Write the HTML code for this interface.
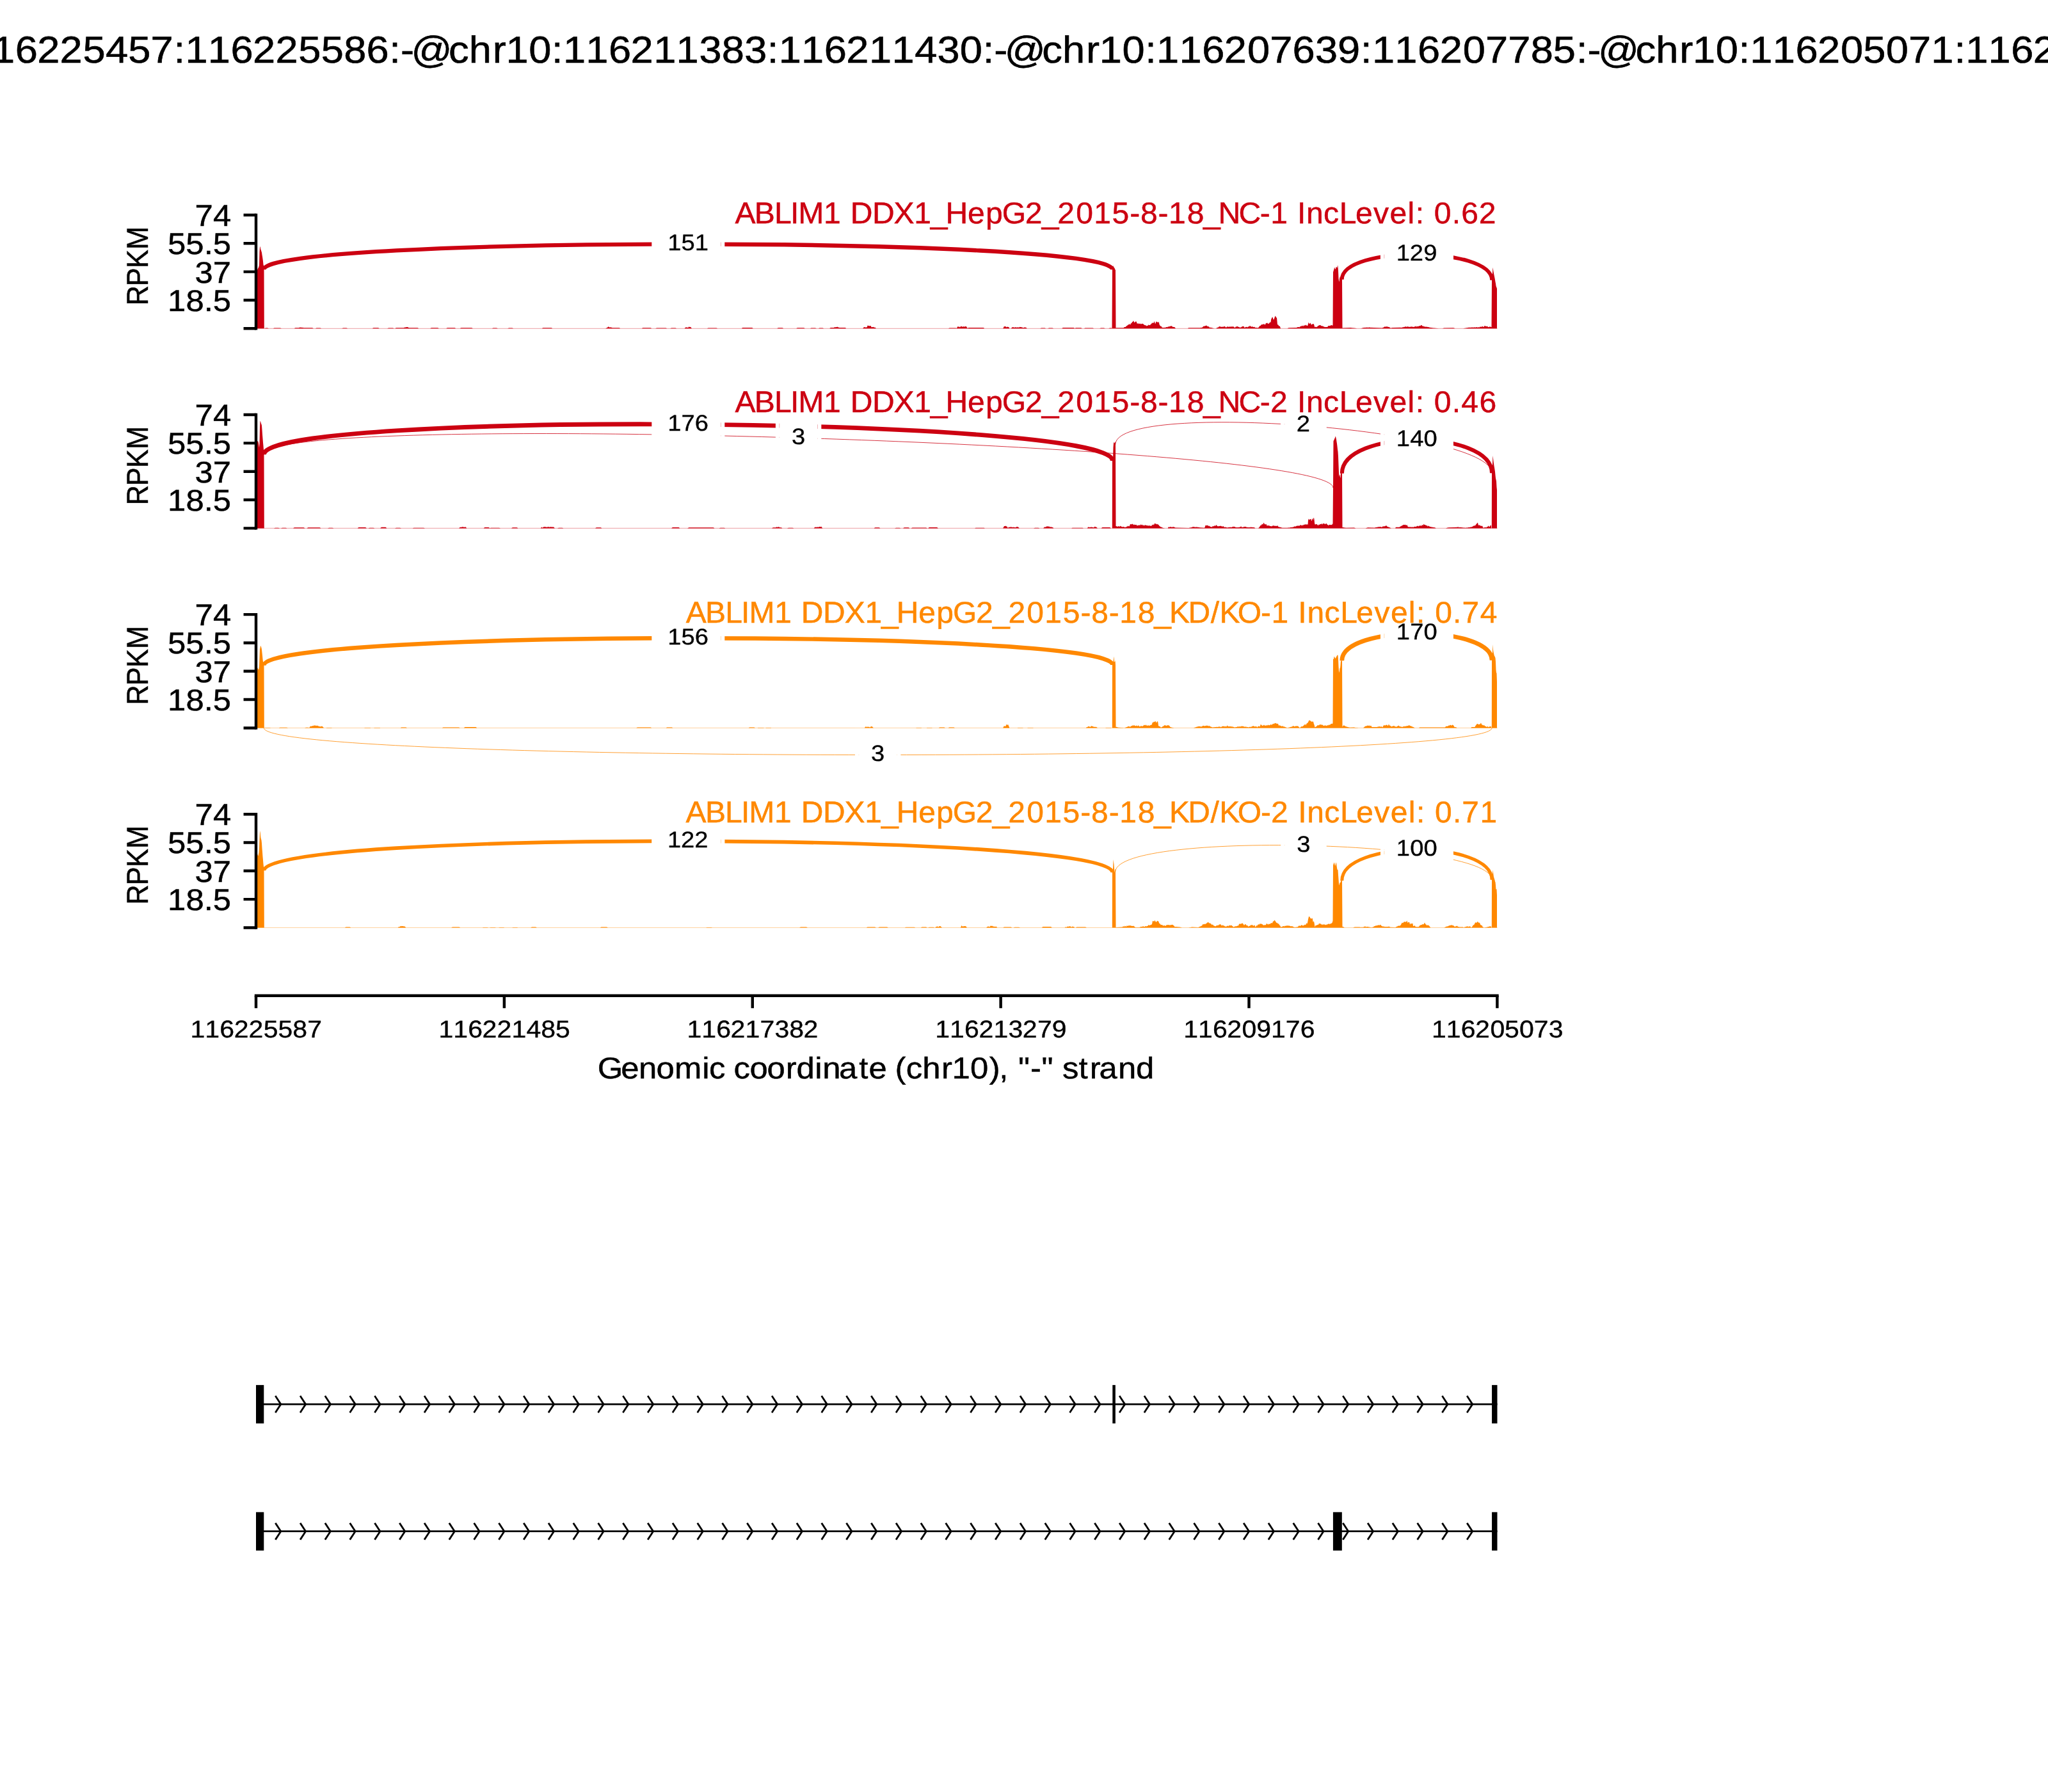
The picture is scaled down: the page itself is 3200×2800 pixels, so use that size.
<!DOCTYPE html>
<html lang="en"><head><meta charset="utf-8"><title>Sashimi plot chr10 ABLIM1</title>
<style>
html,body{margin:0;padding:0;background:#fff}
body{width:3200px;height:2800px;overflow:hidden}
svg{display:block;will-change:transform}
svg text{font-family:"Liberation Sans",sans-serif;font-kerning:none;text-rendering:geometricPrecision;white-space:pre;fill:#000;stroke:#000}
</style></head><body>
<svg width="3200" height="2800" viewBox="0 0 3200 2800">
<rect width="3200" height="2800" fill="#fff"/>
<g id="track1">
<path d="M400 513.3H2339.49" stroke="#CC0011" stroke-width="1" stroke-opacity=".38" fill="none"/>
<path d="M399.8 513.3L400 422.9L400.5 423.2L401 423.1L401.5 422.3L402 421.4L402.5 421L403 419.4L403.5 418.8L404 417.7L404.5 416.5L405 413.9L405.5 393.2L406 386.6L406.5 384.8L407 388L407.5 390L408 391.3L408.5 392.9L409 394.5L409.5 398.3L410 400.9L410.5 404.4L411 408.2L411.5 413.6L412 415L412.5 416.7L412.8 513.3ZM413.2 513.3L413.5 513.1L414 513L414.5 512.8L415 512.6L418 512.6L418.5 512.8L419 513L419.5 513.1L419.8 513.3ZM426.8 513.3L427 513.1L427.5 513L428 512.8L428.5 512.6L438 512.6L438.5 512.8L439 513L439.5 513.1L439.8 513.3ZM459.8 513.3L460 513L460.5 512.8L461 512.5L461.5 512.3L467 512.3L467.5 512L468 511.5L468.5 511.7L469 511.8L469.5 511.8L470 511.5L470.5 511.6L471 511.8L471.5 511.9L472 512.1L472.5 511.9L473 511.5L473.5 512L474 512.3L488 512.3L488.5 512.5L489 512.8L489.5 513L489.8 513.3ZM492.8 513.3L493 513.1L493.5 513L494 512.8L494.5 512.6L500.5 512.6L501 512.8L501.5 513L502 513.1L502.2 513.3ZM534.2 513.3L534.5 513.1L535 513L535.5 512.8L536 512.6L541.5 512.6L542 512.8L542.5 513L543 513.1L543.2 513.3ZM581.8 513.3L582 513L582.5 512.8L583 512.5L583.5 512.3L591 512.3L591.5 512.5L592 512.8L592.5 513L592.8 513.3ZM605.2 513.3L605.5 513.1L606 513L606.5 512.8L607 512.6L614 512.6L614.5 512.8L615 513L615.5 513.1L615.8 513.3ZM617.2 513.3L617.5 513L618 512.8L618.5 512.5L619 512.3L631 512.3L631.5 512.1L632 511.4L632.5 511.4L633 511.7L633.5 511.6L634 511.4L634.5 511.1L635 511.3L635.5 511.2L636 511L636.5 511L637 511.1L637.5 511.4L638 511.8L638.5 512L639 512.1L639.5 512.3L652.5 512.3L653 512.5L653.5 512.8L654 513L654.2 513.3ZM672.2 513.3L672.5 513L673 512.8L673.5 512.5L674 512.3L684 512.3L684.5 512.5L685 512.8L685.5 513L685.8 513.3ZM697.2 513.3L697.5 513L698 512.8L698.5 512.5L699 512.3L710.5 512.3L711 512.5L711.5 512.8L712 513L712.2 513.3ZM718.8 513.3L719 513L719.5 512.8L720 512.5L720.5 512.3L737 512.3L737.5 512.5L738 512.8L738.5 513L738.8 513.3ZM768.8 513.3L769 513.1L769.5 513L770 512.8L770.5 512.6L776 512.6L776.5 512.8L777 513L777.5 513.1L777.8 513.3ZM793.2 513.3L793.5 513.1L794 513L794.5 512.8L795 512.6L800.5 512.6L801 512.8L801.5 513L802 513.1L802.2 513.3ZM846.8 513.3L847 513L847.5 512.8L848 512.5L848.5 512.3L861.5 512.3L862 512.5L862.5 512.8L863 513L863.2 513.3ZM946.2 513.3L946.5 513L947 512.8L947.5 512.5L948 512.3L948.5 512.3L949 511.8L949.5 511.3L950 511L950.5 510.3L951 510.6L951.5 511.1L952 511.4L952.5 511.5L953 511.5L953.5 511.4L954 511.2L954.5 511.4L955 511.7L955.5 511.7L956 511.8L956.5 512.3L967.5 512.3L968 512.5L968.5 512.8L969 513L969.2 513.3ZM1002.8 513.3L1003 513L1003.5 512.8L1004 512.5L1004.5 512.3L1016.5 512.3L1017 512.5L1017.5 512.8L1018 513L1018.2 513.3ZM1024.2 513.3L1024.5 513.1L1025 513L1025.5 512.8L1026 512.6L1040.5 512.6L1041 512.8L1041.5 513L1042 513.1L1042.2 513.3ZM1047.2 513.3L1047.5 513.1L1048 513L1048.5 512.8L1049 512.6L1055.5 512.6L1056 512.8L1056.5 513L1057 513.1L1057.2 513.3ZM1069.8 513.3L1070 512.7L1070.5 512.1L1071 511.9L1071.5 511.5L1072 511.3L1072.5 511.4L1073 511.7L1074 511.6L1074.5 511.9L1075 512L1075.5 511.7L1076 511.1L1076.5 510.5L1077 510.5L1077.5 511.2L1078 511.3L1078.5 510.8L1079 510.9L1079.5 511.4L1080 512.1L1080.5 512.7L1080.8 513.3ZM1104.8 513.3L1105 513.1L1105.5 513L1106 512.8L1106.5 512.6L1119.5 512.6L1120 512.8L1120.5 513L1121 513.1L1121.2 513.3ZM1158.8 513.3L1159 513L1159.5 512.6L1160 512.3L1160.5 511.9L1175 511.9L1175.5 512.3L1176 512.6L1176.5 513L1176.8 513.3ZM1214.2 513.3L1214.5 513L1215 512.8L1215.5 512.5L1216 512.3L1222.5 512.3L1223 512.5L1223.5 512.8L1224 513L1224.2 513.3ZM1244.2 513.3L1244.5 513L1245 512.8L1245.5 512.5L1246 512.3L1256 512.3L1256.5 512.5L1257 512.8L1257.5 513L1257.8 513.3ZM1265.8 513.3L1266 513.1L1266.5 513L1267 512.8L1267.5 512.6L1274 512.6L1274.5 512.8L1275 513L1275.5 513.1L1275.8 513.3ZM1278.8 513.3L1279 513.1L1279.5 513L1280 512.8L1280.5 512.6L1285.5 512.6L1286 512.8L1286.5 513L1287 513.1L1287.2 513.3ZM1296.2 513.3L1296.5 513L1297 512.6L1297.5 512.3L1298 511.9L1303 511.9L1303.5 511.8L1304 511L1304.5 511.2L1305.5 511.2L1306 511.4L1306.5 511.2L1307 510.7L1307.5 510.9L1308 510.9L1308.5 510.5L1309 510.9L1309.5 511.4L1310.5 511.4L1311 511.8L1311.5 511.9L1320.5 511.9L1321 512.3L1321.5 512.6L1322 513L1322.2 513.3ZM1348.2 513.3L1348.5 512.8L1349 512.3L1349.5 511.8L1350 510.9L1350.5 511.1L1351 511.3L1352 511.4L1352.5 511.6L1353 511.6L1353.5 511.5L1354.5 511.5L1355 510.4L1355.5 508.6L1356 508.6L1356.5 509.2L1357 509.1L1357.5 508.7L1358 509L1358.5 509.5L1359 509.4L1359.5 509.1L1360 509L1360.5 508.9L1361 510L1361.5 511.1L1362 511.4L1362.5 511.2L1363 510.9L1363.5 511.1L1364 511.2L1364.5 510.8L1365 510.9L1365.5 511.5L1366 511.8L1366.5 511.7L1367 511.5L1367.5 511.8L1368 512.3L1368.5 512.8L1368.8 513.3ZM1481.8 513.3L1482 513.1L1482.5 513L1483 512.8L1483.5 512.6L1493.5 512.6L1494 512.8L1494.5 513L1495 512.5L1495.5 511.8L1496 510.9L1496.5 509.9L1497 510.3L1497.5 510.7L1498 510.5L1498.5 510.3L1499 510.7L1499.5 511.2L1500 511.3L1500.5 511L1501 509.9L1501.5 509.4L1502 510L1502.5 510.1L1503 510.2L1503.5 510.7L1504 510.6L1504.5 510.5L1505 510.2L1505.5 510L1506 510.6L1506.5 510.4L1507 510.2L1507.5 510.4L1508 510.2L1508.5 509.9L1509 510L1509.5 510L1510 510.3L1510.5 511.3L1511 511.8L1511.5 512.5L1512 513L1512.5 512.6L1513 512.3L1513.5 511.9L1536.5 511.9L1537 512.3L1537.5 512.6L1538 513L1538.2 513.3ZM1567.2 513.3L1567.5 512.6L1568 512L1568.5 510.7L1569 509.9L1569.5 510.3L1570 510.2L1570.5 509.8L1571 510L1571.5 510.4L1572 510.8L1572.5 511.4L1573 511.3L1573.5 510.6L1574 510.4L1574.5 510.8L1575 511.3L1575.5 510.9L1576 510.7L1576.5 511.5L1577 512.2L1577.2 513.3ZM1579.8 513.3L1580 512.9L1580.5 512.5L1581 512L1581.5 511.3L1582 511.2L1582.5 511.3L1583 511.4L1583.5 511.2L1584 511.3L1584.5 511.8L1585 512.1L1585.5 511.8L1586 511.2L1586.5 510.9L1587 511.4L1587.5 511.8L1588 511.8L1588.5 511.6L1589 511.6L1589.5 511.6L1590.5 511.5L1591 511.4L1591.5 511.5L1592 511.7L1592.5 511.7L1593 511L1593.5 510.8L1594 510.9L1594.5 511L1595 511.3L1595.5 511.3L1596 511.1L1596.5 511.6L1597 511.5L1597.5 511.6L1598 512.2L1598.5 512.2L1599 512L1599.5 512.1L1600 512L1600.5 511.6L1601 511.5L1601.5 511.6L1602 511.6L1602.5 511.7L1603 511.8L1603.5 512L1604 512.5L1604.5 512.9L1604.8 513.3ZM1625.2 513.3L1625.5 513.1L1626 513L1626.5 512.8L1627 512.6L1632.5 512.6L1633 512.8L1633.5 513L1634 513.1L1634.2 513.3ZM1637.2 513.3L1637.5 513.1L1638 513L1638.5 512.8L1639 512.6L1644.5 512.6L1645 512.8L1645.5 513L1646 513.1L1646.2 513.3ZM1659.2 513.3L1659.5 513L1660 512.6L1660.5 512.3L1661 511.9L1677.5 511.9L1678 512.3L1678.5 512.6L1679 513L1679.5 513L1680 512.8L1680.5 512.5L1681 512.3L1689 512.3L1689.5 512.5L1690 512.8L1690.5 513L1690.8 513.3ZM1693.8 513.3L1694 513.1L1694.5 513L1695 512.8L1695.5 512.6L1707.5 512.6L1708 512.8L1708.5 513L1709 513.1L1709.2 513.3ZM1718.2 513.3L1718.5 513.1L1719 513L1719.5 512.8L1720 512.6L1725 512.6L1725.5 512.8L1726 513L1726.5 513.1L1726.8 513.3ZM1732.2 513.3L1732.5 513.1L1733 513L1733.5 512.8L1734 512.6L1736.5 512.6L1737 512.8L1737.5 513L1738 421.5L1738.5 419.8L1739 417.1L1739.5 414.7L1740 417L1740.5 418.1L1741 418.6L1741.5 418.8L1742 420.4L1742.5 421.4L1743 421.5L1743.5 512.5L1744 512.3L1755 512.3L1755.5 512.3L1756 511.9L1756.5 511.2L1757 511L1757.5 510.9L1758 510.9L1758.5 511L1759 510.8L1759.5 509.8L1760 509.4L1760.5 509.3L1761 508.8L1761.5 508.6L1762 508.2L1762.5 507.5L1763 507.6L1763.5 507.6L1764 506.3L1764.5 505.9L1765 506.7L1765.5 507.3L1766 507.5L1766.5 506.6L1767 505.1L1767.5 505L1768 505.4L1768.5 504.2L1769 502.7L1769.5 503.1L1770 503L1770.5 501.5L1771 501.2L1771.5 501.9L1772 502.9L1772.5 504.1L1773 504L1773.5 503.3L1774 502.7L1774.5 502.2L1775 502.2L1775.5 502.6L1776 503.4L1776.5 505.1L1777 506.1L1777.5 505.6L1778 505.3L1778.5 505.3L1779 505.5L1779.5 506.2L1780 506.2L1780.5 505.6L1781 505.5L1781.5 505.7L1782 505.7L1782.5 506.2L1783 506.8L1783.5 505.9L1784 505.5L1784.5 506.1L1785 505.9L1785.5 505.4L1786 506.1L1786.5 506.8L1787 506.6L1787.5 507.1L1788 508L1788.5 508.1L1789 507.9L1789.5 508.2L1790 508.3L1790.5 508.3L1791 509.2L1791.5 509.5L1792 509L1792.5 508.7L1793 508.7L1793.5 508.9L1794 508.3L1794.5 507.5L1795 507.4L1795.5 508L1796 507.9L1796.5 507.9L1797 508.3L1797.5 507.5L1798 506.3L1798.5 506.6L1799 506.4L1799.5 505.2L1800 504.2L1800.5 504.5L1801 505.2L1801.5 504.6L1802 503.9L1802.5 504.5L1803 504.3L1803.5 502.5L1804 502.1L1804.5 504.4L1805 506L1805.5 505.4L1806 504.1L1806.5 502.9L1807 502.1L1807.5 502.7L1808 503.2L1808.5 503.2L1809 503.4L1809.5 503.9L1810 503.4L1810.5 502.6L1811 504.2L1811.5 506.7L1812 507.9L1812.5 508.6L1813 509.5L1813.5 509.8L1814 509.6L1814.5 509.7L1815 510.5L1815.5 511.4L1816 512L1816.5 511.7L1817 512.1L1821.5 511.8L1822 511.1L1823 511.1L1823.5 511.2L1824 511.3L1824.5 510.9L1825 510.3L1825.5 510.2L1826 510.4L1826.5 510.4L1827 510L1827.5 510.1L1828 510.1L1828.5 509.5L1829 509.6L1829.5 509.7L1830 509.2L1830.5 509.2L1831 509.6L1831.5 509.8L1832 510.4L1832.5 511L1833 511L1833.5 510.7L1834 510.9L1834.5 510.9L1835 511.1L1835.5 511.5L1836 511.8L1836.5 512.5L1836.8 513.3ZM1856.2 513.3L1856.5 512.8L1857 512.3L1875.5 512.3L1876 512.1L1876.5 512L1877 511.8L1877.5 512.1L1878 511.9L1878.5 511.7L1879 511.1L1879.5 510.7L1880 510.3L1880.5 509.7L1881 509.6L1881.5 509.8L1882 509.8L1882.5 509.6L1883 508.9L1883.5 508.9L1884 509.2L1884.5 508.8L1885 508.5L1885.5 508.7L1886 509.3L1886.5 510.3L1887 510.1L1887.5 509.4L1888 509.9L1888.5 510.6L1889 510.5L1889.5 510.9L1890 511.8L1890.5 512.3L1891 512L1891.5 511.6L1892 511.7L1892.5 511.9L1893 512.1L1893.5 512.2L1894 512.4L1894.5 512.5L1895 512.6L1895.5 512.8L1896 512.9L1896.5 513L1897 513.2L1897.2 513.3ZM1900.2 513.3L1900.5 513.1L1901 512.6L1901.5 512.1L1902 511.7L1902.5 511.8L1903 511.9L1903.5 511.6L1904 511L1904.5 510.5L1905 510.3L1905.5 510.2L1906 510L1906.5 510L1907 510.3L1907.5 511L1908 511.1L1908.5 510.6L1909 510.8L1909.5 510.8L1910 510.6L1910.5 510.7L1911 510.4L1911.5 510.4L1912 510.9L1912.5 510.1L1913 509.4L1913.5 509.9L1914 510.5L1914.5 510.5L1915 510.9L1915.5 511.7L1916 511.7L1916.5 511.1L1917 510.7L1917.5 510.3L1918 510.2L1918.5 510.4L1919 510.6L1919.5 510.7L1920 510.8L1920.5 510.6L1921 510.7L1921.5 510.5L1922 510L1922.5 510.4L1923 510.7L1923.5 510.4L1924.5 510.3L1925 510.2L1925.5 510.3L1926 510.4L1926.5 510.5L1927 510.1L1927.5 510.2L1928 511.3L1928.5 511.5L1929 511.6L1929.5 512.1L1930 511.7L1930.5 510.9L1931 510.6L1931.5 510.2L1932 510.2L1932.5 510.4L1933 510.1L1933.5 510L1934 510.1L1934.5 510.5L1935 510.9L1935.5 510.9L1936 510.8L1936.5 511.3L1937 511.7L1937.5 511.9L1938 511.5L1938.5 511.4L1939 511.4L1939.5 511.3L1940 510.9L1940.5 510.2L1941 509.9L1942.5 509.9L1943 509.7L1943.5 510.1L1944 510.9L1944.5 511.8L1945 512.3L1945.5 511.7L1946 510.9L1946.5 510.8L1947 511L1947.5 510.7L1948 510.7L1948.5 511.2L1949 511.6L1949.5 511.2L1950 510.6L1950.5 510.2L1951 510.3L1951.5 510.4L1952 509.7L1952.5 509.2L1953 509.3L1953.5 509.2L1954 509.4L1954.5 510.1L1955 510.9L1955.5 510.8L1956 509.9L1956.5 509.9L1957 510.4L1957.5 510.7L1958 510.7L1958.5 510.9L1959 511.2L1959.5 511L1960 510.6L1960.5 511L1961 511.8L1961.5 512.2L1962 511.7L1962.5 511.8L1963 512L1963.5 512.1L1964 512.2L1964.5 512.3L1965 512.2L1965.5 512L1966 511.9L1966.5 511.8L1967 511.1L1967.5 510.4L1968 509.3L1968.5 508.9L1969 509.3L1969.5 509L1970 508.2L1970.5 507.8L1971 507.5L1971.5 506.9L1972 506.6L1972.5 506.9L1973 507.2L1973.5 507.1L1974 506.5L1974.5 506.2L1975 506.3L1975.5 506.4L1976 507L1976.5 507.7L1977 507.1L1977.5 505.9L1978 505.1L1978.5 504.9L1979 505.1L1979.5 504.8L1980 504.3L1980.5 504.8L1981 505.7L1981.5 505.8L1982 505.7L1982.5 505.8L1983 504.9L1983.5 504.5L1984 504.3L1984.5 503.3L1985 503.5L1985.5 503.7L1986 500L1986.5 498.1L1987 497.4L1987.5 496.3L1988 495.3L1988.5 495.8L1989 497L1989.5 498.8L1990 499.8L1990.5 499L1991 497.8L1991.5 496.3L1992 495L1992.5 493.7L1993 493.8L1993.5 495L1994 496.1L1994.5 496.5L1995 496.2L1995.5 501.7L1996 507.7L1996.5 507.3L1997 506.9L1997.5 508L1998 509L1998.5 509.6L1999 509.7L1999.5 509.2L2000 510.3L2000.5 511.8L2001 513.1L2001.2 513.3ZM2011.2 513.3L2011.5 513.2L2012 512.9L2012.5 512.7L2013 512.4L2013.5 512.3L2023 512.1L2023.5 512.1L2024 512L2024.5 512L2025 511.9L2025.5 511.9L2026 511.8L2026.5 511.8L2027 511.4L2027.5 511.1L2028 511.1L2028.5 511.1L2029 511L2029.5 511.1L2030 511.4L2030.5 511.2L2031 510.5L2031.5 510.2L2032 510.2L2032.5 509.8L2033 509.3L2033.5 509.7L2034 509.7L2034.5 508.8L2035 508.4L2035.5 509.2L2036 510L2036.5 509.6L2037 508.8L2037.5 508.3L2038 508.3L2038.5 508.8L2039 508.7L2039.5 508.3L2040 507.8L2040.5 507.7L2041 507.8L2041.5 508.5L2042 509.2L2042.5 509.1L2043 508.8L2043.5 508.2L2044 505.5L2044.5 503.6L2045 504.9L2045.5 505.9L2046 506L2046.5 505.4L2047 504.6L2047.5 504.7L2048 505.4L2048.5 506.5L2049 507.5L2049.5 507.4L2050 506.8L2050.5 506.1L2051 506.2L2051.5 506.8L2052 506.3L2052.5 505.8L2053 506.8L2053.5 508.5L2054 510.4L2054.5 511.3L2055 511.1L2055.5 510.6L2056 510.6L2056.5 511.3L2057 511.2L2057.5 510.7L2058 510.4L2058.5 510.2L2059 509.6L2059.5 509.1L2060 509L2060.5 508.8L2061 508.3L2061.5 508.2L2062 508.1L2062.5 507.9L2063 508.1L2063.5 508.3L2064 508.7L2064.5 509.2L2065 509.4L2065.5 509.2L2066 509L2066.5 509.5L2067 509.9L2067.5 509.7L2068 510.1L2068.5 510.6L2069 510.5L2069.5 510.8L2070 511.2L2070.5 511L2071 511.1L2071.5 511L2072 510.7L2072.5 511.1L2073 511.1L2073.5 510.9L2074 511L2074.5 510.6L2075 509.5L2075.5 508.9L2076 509.3L2076.5 509.2L2077 508.7L2077.5 509L2078 509.3L2078.5 508.9L2079 508.6L2079.5 508.3L2080 507.9L2080.5 507.9L2081 508.2L2081.5 508.6L2082 508.7L2082.5 508.1L2083 425.1L2083.5 423.8L2084 421.7L2084.5 420.4L2085 417.6L2085.5 418.6L2086 420.1L2086.5 420.8L2087 419.7L2087.5 417.8L2088 416.8L2088.5 417.5L2089 418.3L2089.5 417.9L2090 414.3L2090.5 416.2L2091 423L2091.5 435.1L2092 438.8L2092.5 440.5L2093 435.4L2093.5 433.4L2094 432.3L2094.5 433.4L2095 433.5L2095.5 433.5L2096 435.3L2096.5 436L2097 436.4L2097.5 512.6L2110 512L2110.5 512.1L2111 512.1L2111.5 512.2L2112 512.2L2112.5 512.3L2113 512.3L2113.5 512.4L2114.5 512.5L2115 512.5L2115.5 512.6L2116 512.6L2116.5 512.7L2117 512.7L2117.5 512.8L2118 512.8L2118.5 512.9L2119 513L2119.5 513.1L2119.8 513.3ZM2126.2 513.3L2126.5 513.1L2127 513L2127.5 512.9L2128 512.7L2128.5 512.6L2129 512.5L2129.5 512.3L2130 512.2L2130.5 512.1L2135.5 511.7L2136 511.4L2136.5 511.4L2137 511.8L2137.5 512.3L2138 512.3L2138.5 511.6L2139 511.2L2139.5 511.5L2140 511.8L2140.5 511.7L2159.5 512.6L2160 512.3L2160.5 511.9L2161 511.7L2161.5 511.8L2162 511.4L2162.5 511.1L2163 511.1L2163.5 510.6L2164 509.9L2164.5 510.1L2165 510.8L2165.5 511.1L2166 510.7L2166.5 510L2167 509.7L2167.5 510.1L2168 510.8L2168.5 511L2169 510.7L2169.5 510.7L2170 511L2170.5 511.1L2171 511.2L2171.5 511.7L2172 512.1L2172.5 512.4L2173 512.5L2173.5 512.5L2174 512.4L2174.5 512.3L2175 512.2L2175.5 512.1L2176 512L2176.5 512L2177 511.9L2187.5 511.8L2188 511.8L2188.5 511.7L2189 511.9L2189.5 511.9L2190 511.7L2190.5 511.6L2191 511.9L2191.5 511.4L2192 510.7L2192.5 511.2L2193 511.6L2193.5 511.1L2194 510.7L2194.5 510.8L2195 510.8L2195.5 510.8L2196 510.4L2196.5 509.8L2197 510.3L2197.5 510.9L2198 510.8L2198.5 510.5L2199 510.2L2199.5 510.1L2200 510.5L2200.5 510.8L2201 510.5L2201.5 510.4L2202 510.8L2202.5 511L2203 510.9L2203.5 510.6L2204 510.6L2204.5 510.7L2205 510.3L2205.5 510.3L2206 510.6L2206.5 510.8L2207 510.4L2207.5 510.5L2208 511L2208.5 511.1L2209 511L2209.5 510.6L2210 510.2L2210.5 510.4L2211 510.5L2211.5 510.3L2212 509.6L2212.5 509.4L2213 509.9L2213.5 510.7L2214 510.5L2214.5 509.8L2215 509.8L2215.5 509.9L2216.5 509.9L2217 509.4L2217.5 509.1L2218 509.3L2218.5 509.3L2219 509.2L2219.5 509L2220 508.4L2220.5 507.9L2221 508L2221.5 508.1L2222 508.9L2222.5 509.8L2223 509.4L2223.5 509.2L2224 509.5L2224.5 510.1L2225 510.6L2225.5 510.4L2226 509.9L2226.5 510L2227 510.8L2227.5 510.9L2228 510.6L2228.5 510.6L2229 510.4L2229.5 510.8L2230 511.2L2230.5 510.8L2231 510.8L2231.5 511.3L2232 511.2L2232.5 511.1L2233 511.2L2233.5 511.8L2234 511.7L2234.5 511.8L2235 511.8L2235.5 511.9L2236 512L2236.5 512.1L2237 512.1L2237.5 512.2L2238 512.3L2238.5 512.3L2239 512.4L2239.5 512.5L2240 512.5L2240.5 512.6L2248 513.2L2248.2 513.3ZM2253.8 513.3L2254 513.1L2254.5 513L2255 512.9L2255.5 512.8L2256 512.6L2256.5 512.6L2271 512.2L2271.5 512.4L2272 512.6L2272.5 512.8L2273 513L2273.5 513.2L2273.8 513.3ZM2285.8 513.3L2286 513.2L2286.5 513.2L2287 513.1L2287.5 513L2288 512.9L2288.5 512.8L2289 512.7L2289.5 512.7L2290 512.6L2290.5 512.5L2291 512.4L2291.5 512.3L2292 512.2L2292.5 512.2L2293 512.1L2293.5 512L2294 511.9L2294.5 511.8L2299.5 511.7L2300 511.1L2300.5 511.3L2301 511.9L2301.5 512.1L2302 511.5L2302.5 511.4L2303 511.6L2303.5 511.5L2304 511.3L2304.5 511.6L2305 511.8L2305.5 511.6L2306 511.6L2306.5 511.5L2307 510.9L2307.5 510.9L2308 511.6L2308.5 511.9L2309 511.4L2309.5 511L2310 511.3L2310.5 511.6L2311 511.7L2311.5 511.5L2312 511L2312.5 510.4L2313 510.5L2313.5 510.8L2314 510.7L2314.5 510.6L2315 510.8L2315.5 510.4L2316 509.8L2316.5 509.9L2317 510.2L2317.5 510.4L2318 510.7L2318.5 510.9L2319 510.3L2319.5 509.3L2320 508.9L2320.5 509.1L2321 509.5L2321.5 509.9L2322 510.2L2322.5 509.9L2323 509.7L2323.5 509.7L2324 509.7L2324.5 510.2L2325 510.9L2325.5 511.1L2326 511.2L2326.5 510.9L2327 510.4L2327.5 510.5L2328 510.6L2328.5 510.4L2329 510.6L2329.5 511.1L2330 511.1L2330.5 511.2L2331 438L2331.5 433.6L2332 426.7L2332.5 417.8L2333 420.9L2333.5 424.3L2334 426.9L2334.5 429.7L2335 432L2335.5 434.6L2336 437.3L2336.5 440.4L2337 442.7L2337.5 446.5L2338 448.5L2338.5 449.2L2339 451.2L2339 513.3Z" fill="#CC0011"/>
<g fill="none" stroke="#CC0011">
<path d="M412.29 421.18C412.29 368.23 1738.31 368.35 1738.31 421.3" stroke-width="6.36"/>
<path d="M2096.8 436.63C2096.8 383.68 2331.07 384.76 2331.07 437.71" stroke-width="5.85"/>
</g>
<rect x="1018.31" y="339.91" width="113.97" height="83.22" fill="#fff"/>
<rect x="2156.89" y="355.85" width="114.1" height="83.22" fill="#fff"/>
<text transform="translate(1043.42 391.02) scale(1.0796 1)" font-size="35.32" stroke-width="0.35" x="-0.2 19.5 39.1">151</text>
<text transform="translate(2182 406.96) scale(1.0796 1)" font-size="35.32" stroke-width="0.35" x="-0.2 19.2 39.2">129</text>
<clipPath id="seam1"><rect x="1125.88" y="342.69" width="1" height="77.67"/><rect x="2162.3" y="358.62" width="1" height="77.67"/></clipPath>
<g clip-path="url(#seam1)" opacity=".3" fill="none" stroke="#CC0011"><path d="M412.29 421.18C412.29 368.23 1738.31 368.35 1738.31 421.3" stroke-width="6.36"/><path d="M2096.8 436.63C2096.8 383.68 2331.07 384.76 2331.07 437.71" stroke-width="5.85"/></g>
</g>
<g id="track2">
<path d="M400 825.35H2339.49" stroke="#CC0011" stroke-width="1" stroke-opacity=".38" fill="none"/>
<path d="M399.8 825.4L400 691L400.5 690.5L401 690.4L401.5 690.9L402 689.9L402.5 689.3L403 688.9L403.5 690.5L404 692.7L404.5 696.1L405 699.6L405.5 692.7L406 669.3L406.5 657.9L407 658.2L407.5 659.9L408 661.7L408.5 663.1L409 665L409.5 671.4L410 679.1L410.5 685.2L411 691.6L411.5 697.1L412 703L412.5 708.5L412.8 825.4ZM428.2 825.4L428.5 825.2L429 825.1L429.5 824.9L430 824.8L435 824.8L435.5 824.9L436 825.1L436.5 825.2L436.8 825.4ZM439.2 825.4L439.5 825.2L440 825.1L440.5 824.9L441 824.8L446.5 824.8L447 824.9L447.5 825.1L448 825.2L448.2 825.4ZM458.2 825.4L458.5 825.1L459 824.8L459.5 824.6L460 824.3L474.5 824.3L475 824.6L475.5 824.8L476 825.1L476.2 825.4ZM479.8 825.4L480 825.1L480.5 824.8L481 824.6L481.5 824.3L499.5 824.3L500 824.6L500.5 824.8L501 825.1L501.2 825.4ZM512.2 825.4L512.5 825.2L513 825.1L513.5 824.9L514 824.8L519.5 824.8L520 824.9L520.5 825.1L521 825.2L521.2 825.4ZM558.8 825.4L559 825L559.5 824.7L560 824.3L560.5 824L571 824L571.5 824.3L572 824.7L572.5 825L572.8 825.4ZM575.8 825.4L576 825.2L576.5 825.1L577 824.9L577.5 824.8L583.5 824.8L584 824.9L584.5 825.1L585 825.2L585.2 825.4ZM594.2 825.4L594.5 825L595 824.6L595.5 824.2L596 823.8L602.5 823.8L603 824.2L603.5 824.6L604 825L604.2 825.4ZM617.2 825.4L617.5 825.2L618 825.1L618.5 824.9L619 824.8L625 824.8L625.5 824.9L626 825.1L626.5 825.2L626.8 825.4ZM644.8 825.4L645 825.2L645.5 825.1L646 824.9L646.5 824.8L662 824.8L662.5 824.9L663 825.1L663.5 825.2L663.8 825.4ZM717.2 825.4L717.5 824.9L718 824.5L718.5 824.1L719 824L719.5 823.7L720 823.6L720.5 824L721 824.1L721.5 823.6L722 823.3L723 823.3L723.5 823.6L724 823.7L724.5 823.4L725 823.5L725.5 823.7L726 823.8L726.5 823.7L727 823.4L727.5 823.3L728 824.1L728.5 824.5L729 824.9L729.2 825.4ZM755.8 825.4L756 825L756.5 824.7L757 824.3L757.5 824L763.5 824L764 824.3L764.5 824.7L765 825L765.5 825.2L766 825.1L766.5 824.9L767 824.8L780 824.8L780.5 824.9L781 825.1L781.5 825.2L781.8 825.4ZM799.2 825.4L799.5 825.1L800 824.8L800.5 824.6L801 824.3L807.5 824.3L808 824.6L808.5 824.8L809 825.1L809.2 825.4ZM844.8 825.4L845 824.9L845.5 824.5L846 824.1L846.5 823.6L847 824.1L847.5 824.9L848 824.6L848.5 823.8L849 823.6L849.5 823.6L850 823.2L850.5 823.2L851 823.4L851.5 823.1L852 822.9L852.5 823.4L853 823.7L853.5 823.4L854 823.6L854.5 823.8L855 823.8L855.5 823.6L856 823.3L856.5 823.1L857 823.1L857.5 823.4L858 823.8L858.5 823.7L859 823.5L859.5 823.2L860 822.9L860.5 823.4L861 823.7L861.5 823.3L862 823.3L862.5 823.6L863 823.7L863.5 823.5L864 823.3L864.5 823.4L865 823.6L865.5 824.1L866 824.5L866.5 824.9L866.8 825.4ZM871.2 825.4L871.5 825.2L872 825.1L872.5 824.9L873 824.8L878.5 824.8L879 824.9L879.5 825.1L880 825.2L880.2 825.4ZM930.2 825.4L930.5 825.1L931 824.8L931.5 824.6L932 824.3L938.5 824.3L939 824.6L939.5 824.8L940 825.1L940.2 825.4ZM1049.2 825.4L1049.5 825L1050 824.7L1050.5 824.3L1051 824L1060.5 824L1061 824.3L1061.5 824.7L1062 825L1062.2 825.4ZM1074.2 825.4L1074.5 825.2L1075 825L1075.5 824.8L1076 824.6L1076.5 824.3L1114.5 824.3L1115 824.6L1115.5 824.8L1116 825.1L1116.2 825.4ZM1123.8 825.4L1124 825.2L1124.5 825.1L1125 824.9L1125.5 824.8L1131.5 824.8L1132 824.9L1132.5 825.1L1133 825.2L1133.2 825.4ZM1206.2 825.4L1206.5 825.1L1207 824.8L1207.5 824.6L1208 824.3L1212 824.3L1212.5 824.1L1213 823.8L1213.5 823.6L1214 823.3L1214.5 823.4L1215 824L1215.5 824L1216 823.2L1216.5 823L1217 823.4L1217.5 823.6L1218 824.1L1218.5 824.3L1220.5 824.3L1221 824.6L1221.5 824.8L1222 825.1L1222.2 825.4ZM1230.2 825.4L1230.5 825.2L1231 825.1L1231.5 824.9L1232 824.8L1238.5 824.8L1239 824.9L1239.5 825.1L1240 825.2L1240.2 825.4ZM1271.8 825.4L1272 824.9L1272.5 824.5L1273 824.1L1273.5 823.8L1274 823.5L1274.5 823.6L1275 824L1275.5 823.9L1276 823.6L1276.5 823.6L1277 823.6L1277.5 823.5L1278 823.8L1278.5 824L1279 823.6L1279.5 823.2L1280 823.1L1280.5 823L1281 823.2L1281.5 823.2L1282 823.1L1282.5 823.3L1283 823L1283.5 822.8L1284 824.1L1284.5 824.5L1285 824.9L1285.2 825.4ZM1365.8 825.4L1366 825.1L1366.5 824.8L1367 824.6L1367.5 824.3L1373.5 824.3L1374 824.6L1374.5 824.8L1375 825.1L1375.2 825.4ZM1398.2 825.4L1398.5 825.2L1399 825.1L1399.5 824.9L1400 824.8L1405.5 824.8L1406 824.9L1406.5 825.1L1407 825.2L1407.2 825.4ZM1411.2 825.4L1411.5 825.1L1412 824.8L1412.5 824.6L1413 824.3L1419.5 824.3L1420 824.6L1420.5 824.8L1421 825.1L1421.2 825.4ZM1423.8 825.4L1424 825.1L1424.5 824.9L1425 824.7L1425.5 824.5L1447 824.5L1447.5 824.7L1448 824.9L1448.5 825.1L1448.8 825.4ZM1450.2 825.4L1450.5 825L1451 824.7L1451.5 824.3L1452 824L1464 824L1464.5 824.3L1465 824.7L1465.5 825L1465.8 825.4ZM1523.2 825.4L1523.5 825.2L1524 825L1524.5 824.8L1525 824.7L1537 824.7L1537.5 824.8L1538 825L1538.5 825.2L1538.8 825.4ZM1567.2 825.4L1567.5 824.5L1568 824L1568.5 823.2L1569 822L1569.5 822L1570 822.1L1570.5 822.2L1571 821.9L1571.5 821.5L1572 822.1L1572.5 822.7L1573 822.2L1573.5 822.9L1574 823.8L1574.5 824.5L1575 824.9L1575.5 824.5L1576 824.1L1576.5 823.3L1577 823.7L1577.5 824.1L1578 823.8L1578.5 823.5L1579 823.3L1579.5 823.4L1580 823.7L1580.5 823.6L1581 823.5L1581.5 823.8L1582 824.1L1582.5 824L1583 823.5L1583.5 823.5L1584 824L1584.5 824L1585 823.8L1585.5 823.9L1586 824L1586.5 824.1L1587 824.3L1587.5 823.9L1588 823.5L1588.5 823L1589 822.9L1589.5 823.3L1590.5 823.3L1591 823.8L1591.5 824.1L1592 824.5L1592.5 824.9L1592.8 825.4ZM1615.2 825.4L1615.5 825.2L1616 825.1L1616.5 824.9L1617 824.8L1622.5 824.8L1623 824.9L1623.5 825.1L1624 825.2L1624.2 825.4ZM1630.2 825.4L1630.5 824.9L1631 824.5L1631.5 824.1L1632 823.5L1632.5 823.6L1633 823.5L1633.5 823.6L1634 823.6L1634.5 823.2L1635 823L1635.5 822.6L1636 821.9L1636.5 822.2L1637 822.7L1637.5 822.9L1638 822.6L1638.5 822.4L1639 822.5L1639.5 822.7L1640 823.1L1640.5 823.7L1641 823.4L1641.5 823.3L1642 823.5L1642.5 823.4L1643 823.3L1643.5 823.8L1644 824.1L1644.5 823.9L1645 824.1L1645.5 824.5L1646 824.9L1646.2 825.4ZM1674.2 825.4L1674.5 825.2L1675 825L1675.5 824.8L1676 824.7L1691 824.7L1691.5 824.8L1692 825L1692.5 825.2L1692.8 825.4ZM1698.8 825.4L1699 824.9L1699.5 824.5L1700 824.1L1700.5 823.4L1701 823.3L1701.5 823.7L1702 824.2L1702.5 824L1703 823.6L1703.5 823.7L1704 824L1704.5 823.7L1705 823.5L1705.5 823.4L1706 823.6L1706.5 823.9L1707 823.9L1707.5 823.8L1708 824L1708.5 824.3L1709 824.2L1709.5 823.9L1710 823.3L1710.5 822.8L1711 822.9L1711.5 823.3L1712 823.6L1712.5 823.5L1713 823.5L1713.5 824.1L1714 824.5L1714.5 824.9L1714.8 825.4ZM1720.8 825.4L1721 825L1721.5 824.7L1722 824.3L1722.5 824L1734 824L1734.5 824.3L1735 824.7L1735.5 825L1735.8 825.4ZM1737.8 825.4L1738 719.3L1738.5 720L1739 718.8L1739.5 699.1L1740 692.8L1740.5 691L1741 691.6L1741.5 692.9L1742 690.8L1742.5 690.5L1743 692.1L1743.5 822L1744 822.3L1744.5 822.2L1745 822.3L1745.5 822.8L1747 822.7L1747.5 822.3L1748 822.1L1748.5 822.3L1749 822.7L1749.5 822.9L1750 822.5L1750.5 821.8L1751 821.8L1751.5 822.2L1752 822.8L1752.5 823.1L1753 823.1L1753.5 823.5L1754 823.4L1754.5 823L1755 822.9L1755.5 822.9L1756 823.3L1756.5 823.6L1757 823.7L1757.5 823.8L1758 823.8L1759 823.8L1759.5 823.8L1760 823.1L1760.5 822.7L1761 822.7L1761.5 822.5L1762 822.3L1762.5 821.8L1763 821.5L1763.5 822.3L1764 822.7L1764.5 822.3L1765 821.7L1765.5 820.2L1766 818.9L1766.5 819L1767 819L1767.5 819.1L1768 819.7L1768.5 819.1L1769 818.4L1769.5 818.7L1770 818.8L1770.5 819.3L1771 820.2L1771.5 820.2L1772 819.4L1772.5 819.5L1773 820.1L1773.5 820.3L1774 820.1L1774.5 819.9L1775 819.8L1775.5 819.9L1776 820.6L1776.5 821.3L1777 821.3L1777.5 820.9L1778 821L1778.5 820.8L1779 820.8L1779.5 820.7L1780 820.3L1780.5 820.6L1781 821L1781.5 820.7L1782 819.5L1782.5 819.2L1783 820.4L1783.5 820.6L1784 819.8L1784.5 819.6L1785 820.5L1785.5 821.1L1786 820.3L1786.5 820.4L1787 820.9L1787.5 821.3L1788 821.4L1788.5 820.8L1789 820.1L1789.5 820.2L1790 820.7L1790.5 820.8L1791 820.9L1791.5 820.9L1792 820.8L1792.5 820.9L1793 821.3L1793.5 821.4L1794 821.2L1794.5 821.4L1795 821.4L1795.5 821L1796 821.2L1796.5 821.4L1797 821.2L1797.5 821.7L1798 822L1798.5 821.4L1799 821.4L1799.5 821.8L1800 820.6L1800.5 819.4L1801 819.9L1801.5 820.7L1802 820L1802.5 819.3L1803 819.7L1803.5 819.6L1804 818.3L1804.5 817.4L1805 817.8L1805.5 818.2L1806 819L1806.5 819.2L1807 818.3L1807.5 818.8L1808 819.7L1808.5 819L1809 818.7L1809.5 819.6L1810 819.9L1810.5 820.3L1811 821.1L1811.5 821.7L1812 822.1L1812.5 822.5L1813 823L1813.5 823.2L1814 823.5L1814.5 823.6L1815 823.8L1815.5 823.9L1816 824.2L1816.5 824.5L1817 824.8L1817.5 824.9L1818 825L1818.5 825.1L1819 825.2L1819.5 825.3L1819.8 825.4ZM1824.8 825.4L1825 824.8L1825.5 823.8L1826 823.3L1826.5 823.4L1827 823.9L1827.5 823.8L1828 823.2L1828.5 823.1L1829 823.3L1829.5 823.6L1830 823.5L1830.5 823.4L1831 823.7L1831.5 823.8L1832 823.5L1832.5 823.3L1833 823.4L1833.5 823.2L1834 823.2L1834.5 823.6L1835 823.8L1835.5 823.9L1836 824.2L1836.5 824.4L1857 825L1857.5 824.9L1858 824.8L1858.5 824.7L1859 824.6L1859.5 824.5L1860 824.4L1860.5 824.3L1861 824.2L1861.5 824.1L1862 824L1862.5 823.9L1863 823.8L1863.5 823.3L1864 823.1L1864.5 823L1865 823.2L1865.5 823.5L1866 823.4L1866.5 823.3L1867 823.5L1867.5 823.7L1868 823.8L1868.5 823.6L1869.5 823.6L1870 823.4L1870.5 823.6L1871 823.7L1871.5 823.8L1872 823.7L1872.5 823.8L1873 823.9L1873.5 824L1874 824.1L1874.5 824.2L1882 824.7L1882.5 824.1L1883 822.4L1883.5 821L1884 820.4L1884.5 820.9L1885 821.6L1885.5 820.9L1886 820.4L1886.5 820.8L1887 821.3L1887.5 821.4L1888 821.3L1888.5 821.8L1889 822.4L1889.5 821.8L1890 821.4L1890.5 822.5L1891 823.2L1891.5 823.1L1892 823L1892.5 822.9L1893 823.5L1893.5 823.7L1894 823.1L1894.5 822.5L1895 822.1L1895.5 822.1L1896 822.6L1896.5 822.6L1897 821.8L1897.5 821.2L1898 821.2L1898.5 821.8L1899 821.9L1899.5 821.2L1900 820.4L1900.5 820.3L1901 820.8L1901.5 821.3L1902 821.9L1902.5 822.3L1903 822.2L1903.5 822.2L1904 822.3L1904.5 822.2L1905 822L1905.5 821.9L1906 821.8L1906.5 821.9L1907 821.8L1907.5 821.6L1908 821.9L1908.5 822.3L1909 822.5L1909.5 822.5L1910 822.6L1910.5 822.8L1911 822.4L1911.5 822.1L1912 822.6L1912.5 823.4L1913 824L1913.5 823.8L1914 823.5L1914.5 823.5L1915 823.8L1915.5 823.9L1916 824L1916.5 824.1L1917 824.3L1917.5 824.4L1918 824.3L1918.5 824.2L1919 824.1L1919.5 824L1920 823.9L1920.5 823.9L1921 823.8L1921.5 823.7L1922 823.7L1922.5 823.8L1923 823.7L1923.5 823.7L1924 824L1924.5 823.9L1925 823.2L1925.5 823.1L1926 823.4L1926.5 823.3L1927 822.8L1927.5 822.8L1928 823.3L1928.5 823.1L1929 822.9L1929.5 823.1L1930 823.7L1930.5 823.8L1931 823.9L1931.5 823.9L1932 824L1932.5 824.1L1933 824.2L1933.5 824.1L1934 824.1L1934.5 824L1935 823.9L1935.5 823.9L1936 823.8L1936.5 823.7L1937 823.8L1937.5 823.5L1938 823.2L1938.5 822.9L1939 822.4L1939.5 822.6L1940 823.5L1940.5 823.9L1941 823.9L1941.5 823.7L1942 823.4L1942.5 823.6L1943 823.7L1943.5 823.2L1944 822.9L1944.5 823.1L1945 823.1L1945.5 822.9L1946 822.9L1946.5 823L1947 823.3L1947.5 823.7L1948 823.8L1948.5 823.8L1949 823.8L1949.5 823.9L1950 824L1950.5 824.1L1951 824.1L1951.5 824L1952 823.9L1952.5 823.8L1953 824.2L1953.5 823.9L1954 823.7L1954.5 823.6L1955 823.6L1955.5 823.9L1956 823.8L1956.5 824L1957 823.8L1957.5 823.9L1958 824L1958.5 824L1959 824.1L1959.5 824.2L1960 824.3L1960.5 824.4L1961 824.9L1961.2 825.4ZM1966.2 825.4L1966.5 825.1L1967 824.5L1967.5 823.9L1968 823.3L1968.5 822.4L1969 821.8L1969.5 820.9L1970 820.6L1970.5 821L1971 820.5L1971.5 819.4L1972 818.6L1972.5 818.8L1973 819.8L1973.5 819.2L1974 817.8L1974.5 816.8L1975 816.9L1975.5 818.3L1976 819.3L1976.5 819.2L1977 819.2L1977.5 819.4L1978 818.9L1978.5 818.8L1979 820.1L1979.5 821.4L1980 821.2L1980.5 820.8L1981 821.4L1981.5 821.5L1982 821.1L1982.5 820.9L1983 821.1L1983.5 821.6L1984 822L1984.5 822.1L1985.5 822.1L1986 822.2L1986.5 822.3L1987 822.5L1987.5 822.1L1988 821.7L1988.5 821.6L1989 821.5L1989.5 821.2L1990 821.1L1990.5 821.5L1991 821.7L1991.5 821.5L1992 821.7L1992.5 822L1993 821.7L1993.5 821.4L1994 821.7L1994.5 822L1995 822L1995.5 821.5L1996 821.2L1996.5 821.6L1997 822.6L1997.5 823.1L1998 823.2L1998.5 823.5L1999 823.5L1999.5 823.6L2000 823.7L2000.5 823.7L2001 823.9L2001.5 824.1L2002 824.3L2002.5 824.4L2003 824.6L2003.5 824.8L2012 824.7L2012.5 824.6L2013 824.6L2013.5 824.5L2014 824.5L2014.5 824.4L2015 824.4L2015.5 824.3L2016 824.2L2016.5 824L2017 823.9L2017.5 823.8L2018 824L2018.5 824.1L2019 823.9L2019.5 823.6L2020 823.8L2020.5 823.7L2021 823.3L2021.5 823.1L2022 823L2022.5 822.5L2023 822.4L2023.5 822.6L2024 822.6L2024.5 822.7L2025 822.4L2025.5 821.7L2026 821.7L2026.5 821.7L2027 821.5L2027.5 821.6L2028 821.5L2028.5 821.6L2029 821.6L2029.5 821.5L2030 821.6L2030.5 821.4L2031 821.2L2031.5 820.7L2032 820L2032.5 820.3L2033 820.8L2033.5 820.8L2034 821L2034.5 821.3L2035 821.1L2035.5 820.3L2036 820.3L2036.5 820.8L2037 820.3L2037.5 819.5L2038 819.8L2038.5 819.8L2039 819.6L2039.5 819.7L2040 819L2040.5 818.9L2041 820L2041.5 819.7L2042 819L2042.5 819.3L2043 819.7L2043.5 819.7L2044 813.3L2044.5 811.2L2045 810.6L2045.5 811.9L2046 812.6L2046.5 811.9L2047 811.1L2047.5 810.9L2048 811L2048.5 811.6L2049 813.8L2049.5 814.3L2050 811L2050.5 809.8L2051 812.1L2051.5 812.3L2052 810.4L2052.5 809.3L2053 809L2053.5 811.7L2054 817.1L2054.5 819.3L2055 819.4L2055.5 819.4L2056 818.9L2056.5 818.7L2057 819L2057.5 819.3L2058 819.4L2058.5 819.8L2059 820.4L2059.5 821.2L2060 820.7L2060.5 819.6L2061 819.6L2061.5 820.1L2062 820L2062.5 818.9L2063 818.7L2063.5 819L2064 818.9L2064.5 818.4L2065 818L2065.5 818.8L2066 819.7L2066.5 818.9L2067 817.8L2067.5 817.9L2068 818.3L2068.5 818L2069 817.8L2069.5 818.2L2070 819.2L2070.5 819.1L2071 818.4L2071.5 818.4L2072 818L2072.5 817.8L2073 818.6L2073.5 819.3L2074 819.8L2074.5 820.1L2075 820.3L2075.5 821.2L2076 821.1L2076.5 820.1L2077 819.8L2077.5 820L2078 820.2L2078.5 820.2L2079 819.8L2079.5 820.1L2080 820.3L2080.5 820.1L2081 820.2L2081.5 819.5L2082 818.4L2082.5 818.6L2083 762.1L2083.5 689.6L2084 687.9L2084.5 687.5L2085 685.8L2085.5 685L2086 684L2086.5 682.1L2087 682L2087.5 684.5L2088 686.8L2088.5 690.2L2089 693.2L2089.5 697.5L2090 702.2L2090.5 705.7L2091 713.2L2091.5 726.4L2092 739.2L2092.5 745.1L2093 742L2093.5 741.3L2094 745.2L2094.5 747.1L2095 740.1L2095.5 739.6L2096 739.5L2096.5 739.3L2097 739.4L2097.5 823.9L2098 824L2098.5 824.1L2099 824.1L2099.5 824.2L2100 824.3L2100.5 824.4L2101 824.5L2101.5 824.5L2102 824.6L2102.5 824.7L2115.5 824.4L2116 824.5L2116.5 824.7L2117 824.9L2117.5 825L2118 825.2L2118.2 825.4ZM2133.8 825.4L2134 825.3L2134.5 825.1L2135 825L2135.5 824.8L2136 824.7L2136.5 824.5L2137 824.3L2143.5 824.4L2144 824.4L2144.5 824.5L2145 824.5L2145.5 824.6L2146 824.6L2147 824.7L2147.5 824.6L2148 824.5L2148.5 824.4L2149 824.2L2149.5 824.1L2150 824L2150.5 823.8L2151 823.9L2151.5 824L2152 823.8L2152.5 823.5L2153 823.6L2153.5 823.2L2154 823.3L2154.5 823.5L2155 823.2L2155.5 823.1L2156 823.4L2156.5 823.3L2157 823L2157.5 823.1L2158 823.5L2158.5 823.8L2159 823.8L2159.5 823.5L2160 822.9L2160.5 822.6L2161 822.4L2161.5 822.3L2162 822.5L2162.5 822.7L2163 822.2L2163.5 821.9L2164 822.4L2164.5 822.1L2165 821.6L2165.5 821.5L2166 821.1L2166.5 821.4L2167 822.2L2167.5 822.8L2168 822.9L2168.5 823L2169 823.2L2169.5 823.4L2170 823.7L2170.5 823.8L2171 824.1L2171.5 824.3L2172 824.5L2172.5 824.7L2173 825L2173.5 825.2L2173.8 825.4ZM2180.2 825.4L2180.5 824.5L2181 823.8L2186.5 823.8L2187 823.5L2187.5 822.9L2188 822.5L2188.5 822.5L2189 822.2L2189.5 821.9L2190 821.7L2190.5 821.2L2191 820.8L2191.5 820.9L2192 820.8L2192.5 820.1L2193 819.7L2193.5 820.1L2194 820.4L2194.5 820.1L2195 819.9L2195.5 819.7L2196 819.8L2196.5 820.5L2197 820.7L2197.5 820.8L2198 820.5L2198.5 820.1L2199 821.2L2199.5 822.6L2200 823.1L2200.5 823.4L2201 823.2L2201.5 823.3L2202 823.5L2202.5 823.4L2203 823.3L2203.5 823.4L2204 823.5L2204.5 823.4L2205 823.5L2205.5 823.7L2206 823.6L2206.5 823.6L2207 823.5L2207.5 823.5L2208 823.8L2208.5 823.8L2209 823.4L2209.5 823.1L2210 823L2210.5 822.8L2211 822.9L2211.5 823.1L2212 822.9L2212.5 822.8L2213 822.8L2213.5 822.5L2214 822.1L2214.5 821.7L2215 821.6L2215.5 822L2216 822.5L2216.5 822.4L2217 821.7L2217.5 821.2L2218 821.5L2218.5 821.7L2219 821.4L2219.5 821L2220 821.1L2220.5 821.7L2221 822.1L2221.5 821L2222 819.8L2222.5 820.2L2223 820.9L2223.5 820.7L2224 819.9L2224.5 818.7L2225 819.1L2225.5 820L2226 819.9L2226.5 820.1L2227 820.1L2227.5 820.6L2228 821L2228.5 821.1L2229 821.2L2229.5 820.9L2230 821.3L2230.5 822.4L2231 822.4L2231.5 821.5L2232 821.6L2232.5 822.2L2233 822.1L2233.5 822.4L2234 822.9L2234.5 823.1L2235 823L2235.5 822.9L2236 823.5L2236.5 823.7L2237 823.2L2237.5 823.3L2238 823.9L2238.5 823.8L2239 823.9L2239.5 823.9L2240 824L2240.5 824.1L2241 824.2L2241.5 824.2L2242 824.3L2242.5 824.5L2243 824.9L2243.5 825.3L2243.8 825.4ZM2259.2 825.4L2259.5 825.2L2260 825L2260.5 824.9L2261 824.8L2261.5 824.6L2262 824.5L2262.5 824.4L2263 824.3L2272 824L2272.5 824L2273 823.9L2273.5 823.9L2274 823.8L2274.5 823.8L2275 824.3L2275.5 824.1L2276 823.5L2276.5 823.5L2277 823.9L2277.5 823.8L2278 823.2L2278.5 823.2L2279 823.8L2279.5 824.2L2280 824.2L2280.5 823.8L2281 823.8L2281.5 823.9L2282 824L2282.5 824L2283 824.1L2283.5 824.1L2284 824.2L2284.5 824.2L2285 824.3L2285.5 824.3L2286 824.4L2287 824.5L2287.5 824.5L2288 824.6L2288.5 824.6L2289 824.7L2289.5 824.7L2290 824.7L2290.5 824.6L2291 824.6L2291.5 824.5L2292 824.5L2292.5 824.4L2293 824.4L2293.5 824.3L2294 824.2L2294.5 824.1L2295 824.1L2295.5 824L2296 823.9L2296.5 823.9L2297 823.8L2297.5 823.6L2298 823.6L2298.5 823.7L2299 823.6L2299.5 823.3L2300 823L2300.5 822.9L2301 822.5L2301.5 822.3L2302 822.3L2302.5 821.6L2303 821.4L2303.5 821.4L2304 820.9L2304.5 821.2L2305 821.4L2305.5 820.6L2306 819.7L2306.5 819.2L2307 818.8L2307.5 818L2308 817.4L2308.5 816.8L2309 816.7L2309.5 818.8L2310 820.7L2310.5 820.7L2311 820.4L2311.5 820.2L2312 820.4L2312.5 821.3L2313 821.5L2313.5 821.3L2314 821.8L2314.5 822.2L2315 821.6L2315.5 821.5L2316 821.9L2316.5 822.2L2317 824L2317.5 824.7L2318 824.5L2318.5 824.4L2319 824.3L2319.5 824.2L2320 824L2320.5 823.9L2321 823.8L2321.5 824L2322 824.3L2322.5 824.3L2323 823.8L2323.5 823L2324 822.9L2324.5 823.1L2325 822.5L2325.5 821.6L2326 821.8L2326.5 822.7L2327 822.8L2327.5 822.9L2328 822.8L2328.5 821.6L2329 820.5L2329.5 820.7L2330 821.5L2330.2 825.4ZM2330.8 825.4L2331 739.5L2331.5 734L2332 726L2332.5 712.1L2333 715.9L2333.5 720.5L2334 724.3L2334.5 728L2335 730.4L2335.5 733.8L2336 737.1L2336.5 742.5L2337 747L2337.5 749.4L2338 751.7L2338.5 760.9L2339 765.7L2339 825.4Z" fill="#CC0011"/>
<g fill="none" stroke="#CC0011">
<path d="M412.29 710.35C412.29 640.96 1738.31 650.54 1738.31 719.93" stroke-width="6.89"/>
<path d="M412.29 710.35C412.29 640.96 2082.91 692.71 2082.91 762.1" stroke-width="0.8"/>
<path d="M1742.85 694.53C1742.85 625.15 2331.07 669.83 2331.07 739.22" stroke-width="0.8"/>
<path d="M2096.8 739.82C2096.8 670.43 2331.07 669.83 2331.07 739.22" stroke-width="6.11"/>
</g>
<rect x="1018.31" y="621.49" width="113.97" height="83.22" fill="#fff"/>
<rect x="1211.86" y="642.57" width="71.47" height="83.22" fill="#fff"/>
<rect x="2001.16" y="623.23" width="71.6" height="83.22" fill="#fff"/>
<rect x="2156.95" y="645.87" width="113.97" height="83.22" fill="#fff"/>
<text transform="translate(1043.42 672.6) scale(1.0796 1)" font-size="35.32" stroke-width="0.35" x="-0.2 19.6 39.3">176</text>
<text transform="translate(1236.97 693.68) scale(1.0796 1)" font-size="35.32" stroke-width="0.35" x="0">3</text>
<text transform="translate(2026.27 674.34) scale(1.0796 1)" font-size="35.32" stroke-width="0.35" x="-0.4">2</text>
<text transform="translate(2182.06 696.98) scale(1.0796 1)" font-size="35.32" stroke-width="0.35" x="-0.2 19.6 39.3">140</text>
<clipPath id="seam2"><rect x="1125.88" y="624.27" width="1" height="77.67"/><rect x="1217.27" y="645.35" width="1" height="77.67"/><rect x="1276.93" y="645.35" width="1" height="77.67"/><rect x="2006.57" y="626" width="1" height="77.67"/><rect x="2162.36" y="648.65" width="1" height="77.67"/></clipPath>
<g clip-path="url(#seam2)" opacity=".3" fill="none" stroke="#CC0011"><path d="M412.29 710.35C412.29 640.96 1738.31 650.54 1738.31 719.93" stroke-width="6.89"/><path d="M412.29 710.35C412.29 640.96 2082.91 692.71 2082.91 762.1" stroke-width="0.8"/><path d="M1742.85 694.53C1742.85 625.15 2331.07 669.83 2331.07 739.22" stroke-width="0.8"/><path d="M2096.8 739.82C2096.8 670.43 2331.07 669.83 2331.07 739.22" stroke-width="6.11"/></g>
</g>
<g id="track3">
<path d="M400 1137.41H2339.49" stroke="#FF8800" stroke-width="1" stroke-opacity=".38" fill="none"/>
<path d="M399.8 1137.4L400 1042.8L400.5 1043.4L401 1043.1L401.5 1043.7L402 1043.6L402.5 1043.8L403 1045.3L403.5 1046.3L404 1046L404.5 1044.6L405 1040.4L405.5 1027.5L406 1014.4L406.5 1012.4L407 1009.2L407.5 1009.3L408 1011L408.5 1012.3L409 1014.9L409.5 1019.7L410 1024.5L410.5 1030.1L411 1034L411.5 1036.1L412 1037.9L412.5 1039.1L412.8 1137.4ZM413.2 1137.4L413.5 1137.3L414 1137.1L414.5 1137L415 1136.9L421 1136.9L421.5 1137L422 1137.1L422.5 1137.3L422.8 1137.4ZM435.8 1137.4L436 1137.2L436.5 1137.1L437 1136.9L437.5 1136.7L448 1136.7L448.5 1136.9L449 1137.1L449.5 1137.2L449.8 1137.4ZM476.2 1137.4L476.5 1137.2L477 1137.1L477.5 1136.9L478 1136.7L481.5 1136.7L482 1136.9L482.5 1137.1L483 1137.2L483.5 1136.8L484 1136.2L484.5 1135.2L485 1134.5L485.5 1134.7L486 1134.7L486.5 1134.8L487 1135L487.5 1134.6L488 1134L488.5 1134.1L489 1134.6L489.5 1134.2L490 1133.8L490.5 1133.4L491 1133.6L491.5 1133.7L492 1133.6L493 1133.6L493.5 1133.9L494 1134.3L494.5 1134L495 1133.5L495.5 1133.8L496 1134L496.5 1133.9L497 1134.3L497.5 1134.6L498 1134.6L498.5 1135.2L499 1135.1L499.5 1134.9L500 1135.1L500.5 1135.3L501.5 1135.2L502 1135.1L502.5 1134.7L503 1134.6L503.5 1135.1L504 1135.3L504.5 1135.8L505 1136.2L505.5 1136.8L505.8 1137.4ZM509.8 1137.4L510 1137.3L510.5 1137.1L511 1137L511.5 1136.9L517 1136.9L517.5 1137L518 1137.1L518.5 1137.3L518.8 1137.4ZM569.2 1137.4L569.5 1137.3L570 1137.1L570.5 1137L571 1136.9L577.5 1136.9L578 1137L578.5 1137.1L579 1137.3L579.2 1137.4ZM584.2 1137.4L584.5 1137.3L585 1137.1L585.5 1137L586 1136.9L592.5 1136.9L593 1137L593.5 1137.1L594 1137.3L594.2 1137.4ZM625.8 1137.4L626 1137.1L626.5 1136.9L627 1136.6L627.5 1136.4L634 1136.4L634.5 1136.6L635 1136.9L635.5 1137.1L635.8 1137.4ZM690.8 1137.4L691 1137.2L691.5 1137L692 1136.8L692.5 1136.5L717 1136.5L717.5 1136.8L718 1137L718.5 1137.2L718.8 1137.4ZM724.8 1137.4L725 1137.1L725.5 1136.7L726 1136.4L726.5 1136L743.5 1136L744 1136.4L744.5 1136.7L745 1137.1L745.2 1137.4ZM994.2 1137.4L994.5 1137.2L995 1137L995.5 1136.8L996 1136.5L1016.5 1136.5L1017 1136.8L1017.5 1137L1018 1137.2L1018.2 1137.4ZM1040.8 1137.4L1041 1137.1L1041.5 1136.9L1042 1136.6L1042.5 1136.4L1049.5 1136.4L1050 1136.6L1050.5 1136.9L1051 1137.1L1051.2 1137.4ZM1169.8 1137.4L1170 1137.1L1170.5 1136.9L1171 1136.6L1171.5 1136.4L1178 1136.4L1178.5 1136.6L1179 1136.9L1179.5 1137.1L1179.8 1137.4ZM1183.8 1137.4L1184 1137.3L1184.5 1137.1L1185 1137L1185.5 1136.9L1192 1136.9L1192.5 1137L1193 1137.1L1193.5 1137.3L1193.8 1137.4ZM1196.2 1137.4L1196.5 1137.3L1197 1137.1L1197.5 1137L1198 1136.9L1203.5 1136.9L1204 1137L1204.5 1137.1L1205 1137.3L1205.2 1137.4ZM1350.8 1137.4L1351 1137L1351.5 1136.6L1352 1136.1L1352.5 1135.5L1353 1135.2L1353.5 1135.3L1354 1136.2L1354.5 1136.3L1355 1135.7L1355.5 1135.4L1356 1135.6L1356.5 1135.7L1358 1135.8L1358.5 1136L1359 1136.7L1359.5 1136.4L1360 1135.4L1360.5 1135.5L1361 1135.6L1361.5 1135L1362 1134.9L1362.5 1135.3L1363 1135.5L1363.5 1136.1L1364 1136.6L1364.5 1137L1364.8 1137.4ZM1431.2 1137.4L1431.5 1137.3L1432 1137.1L1432.5 1137L1433 1136.9L1438.5 1136.9L1439 1137L1439.5 1137.1L1440 1137.3L1440.2 1137.4ZM1447.8 1137.4L1448 1137.3L1448.5 1137.1L1449 1137L1449.5 1136.9L1455 1136.9L1455.5 1137L1456 1137.1L1456.5 1137.3L1456.8 1137.4ZM1466.8 1137.4L1467 1137.1L1467.5 1136.9L1468 1136.6L1468.5 1136.4L1475 1136.4L1475.5 1136.6L1476 1136.9L1476.5 1137.1L1476.8 1137.4ZM1481.8 1137.4L1482 1137.1L1482.5 1136.9L1483 1136.6L1483.5 1136.4L1490 1136.4L1490.5 1136.6L1491 1136.9L1491.5 1137.1L1491.8 1137.4ZM1567.2 1137.4L1567.5 1136.7L1568 1135.9L1568.5 1134.7L1569 1134.2L1569.5 1134.4L1570 1134.7L1570.5 1135L1571 1134.7L1571.5 1134.4L1572 1132.9L1572.5 1131.2L1573 1132.4L1573.5 1133.2L1574 1132.7L1574.5 1132.1L1575 1132.1L1575.5 1132.7L1576 1134.3L1576.5 1135.3L1577 1136.2L1577.2 1137.4ZM1589.8 1137.4L1590 1137.3L1590.5 1137.1L1591 1137L1591.5 1136.9L1597 1136.9L1597.5 1137L1598 1137.1L1598.5 1137.3L1598.8 1137.4ZM1605.2 1137.4L1605.5 1137.3L1606 1137.1L1606.5 1137L1607 1136.9L1613 1136.9L1613.5 1137L1614 1137.1L1614.5 1137.3L1614.8 1137.4ZM1696.8 1137.4L1697 1137L1697.5 1136.6L1698 1136.1L1698.5 1136.4L1699 1135.9L1699.5 1135.8L1700 1135.4L1700.5 1134.8L1701 1134.8L1701.5 1135.2L1702 1135.3L1702.5 1135.4L1703 1135.5L1703.5 1135.8L1704 1136L1704.5 1135L1705 1134.3L1705.5 1134.3L1706 1134.8L1706.5 1134.8L1707 1134.7L1707.5 1134.7L1708 1135.4L1708.5 1135.5L1709 1135.6L1709.5 1135.8L1710 1135.7L1710.5 1135.7L1711 1136L1711.5 1135.9L1712 1135.5L1712.5 1135.8L1713 1136.6L1713.5 1136.1L1714 1136.6L1714.5 1137L1714.8 1137.4ZM1727.2 1137.4L1727.5 1137.3L1728 1137.1L1728.5 1137L1729 1136.9L1735 1136.9L1735.5 1137L1736 1137.1L1736.5 1137.3L1736.8 1137.4ZM1737.8 1137.4L1738 1038.5L1738.5 1038L1739 1035.7L1739.5 1034.4L1740 1029.4L1740.5 1025.5L1741 1033.1L1741.5 1034.2L1742 1034.1L1742.5 1031.4L1743 1039.2L1743.5 1136L1744 1135.8L1744.5 1135.8L1745 1136L1745.5 1136.2L1746 1136.3L1746.5 1136.5L1747 1136.6L1747.5 1136.8L1748 1136.8L1755.5 1137.3L1755.8 1137.4ZM1756.8 1137.4L1757 1137.2L1757.5 1137L1758 1136.9L1758.5 1136.7L1759 1136.6L1759.5 1136.4L1760 1136.2L1760.5 1136.1L1761 1135.9L1761.5 1135.4L1762 1135.2L1762.5 1135.4L1763 1135.2L1763.5 1134.7L1764 1134.5L1764.5 1135.1L1765 1135.8L1765.5 1135.8L1766 1135.4L1766.5 1135.2L1767 1134.7L1767.5 1134.3L1768 1134.5L1768.5 1134.3L1769 1133.7L1769.5 1133.6L1770 1133.5L1770.5 1133.4L1771 1134L1771.5 1133.6L1772 1132.7L1772.5 1133.3L1773 1134.1L1773.5 1134.1L1774 1134.2L1774.5 1134.4L1775 1134.1L1775.5 1133.8L1776 1133.6L1776.5 1133.9L1777 1134.7L1777.5 1134.6L1778 1133.9L1778.5 1133.6L1779 1133.5L1779.5 1134.1L1780 1134.9L1780.5 1135L1781 1135.2L1781.5 1135.2L1782 1134.6L1782.5 1134.3L1783 1134.5L1783.5 1134.5L1784 1134.3L1784.5 1134.6L1785 1135.2L1785.5 1134.7L1786 1133.8L1786.5 1133.7L1787 1133.7L1787.5 1133L1788 1132.6L1788.5 1132.9L1789 1133.3L1789.5 1133.4L1790 1133L1790.5 1132.4L1791 1132.6L1791.5 1133.5L1792 1134.2L1792.5 1133.9L1793 1133.4L1793.5 1133.4L1794 1133.5L1795 1133.5L1795.5 1133.8L1796 1134.1L1796.5 1133.8L1797 1133.2L1797.5 1133L1798 1133.1L1798.5 1132.8L1799 1132.3L1799.5 1132.4L1800 1132L1800.5 1129L1801 1128.7L1801.5 1129.1L1802 1128.7L1802.5 1127.9L1803 1127.5L1803.5 1128.2L1804 1128L1804.5 1127.2L1805 1127.2L1805.5 1126.9L1806 1127.5L1806.5 1128.9L1807 1129.2L1807.5 1128.2L1808 1127.2L1808.5 1127.3L1809 1126.9L1809.5 1129.5L1810 1133.7L1810.5 1134.6L1811 1134.8L1811.5 1134.9L1812 1134.9L1812.5 1135L1813 1135.8L1813.5 1136.3L1814 1136.8L1814.5 1136.5L1815 1136.2L1815.5 1136L1816 1135.7L1816.5 1135.1L1817 1135L1817.5 1135L1818 1134.6L1818.5 1134.1L1819 1133.4L1819.5 1133L1820 1133.4L1820.5 1133.4L1821 1133.1L1821.5 1133.4L1822 1133.9L1822.5 1134.2L1823 1134L1823.5 1133.2L1824 1133.1L1824.5 1133.6L1825 1133.6L1825.5 1133.3L1826 1133.2L1826.5 1133.5L1827 1133.7L1827.5 1134.4L1828 1135.2L1828.5 1135.9L1829 1135.9L1829.5 1136.3L1830 1136.5L1830.5 1136.6L1831 1136.7L1831.5 1136.8L1832 1136.9L1832.5 1137L1833 1137.1L1833.5 1137.2L1834 1137.3L1834.2 1137.4ZM1864.8 1137.4L1865 1137.3L1865.5 1137.2L1866 1137L1866.5 1136.8L1867 1136.7L1867.5 1136.5L1868 1136.3L1868.5 1136.2L1869 1136L1869.5 1135.8L1870 1135.7L1870.5 1135.5L1871 1135.4L1871.5 1135.3L1872 1135.2L1872.5 1135L1873 1135L1873.5 1135.1L1874 1135L1874.5 1135L1875.5 1135.1L1876 1135.6L1876.5 1135.6L1877 1135L1877.5 1135.2L1878 1135.3L1878.5 1134.8L1879 1134.4L1879.5 1133.9L1880 1133.7L1880.5 1134L1881 1134.2L1881.5 1134.3L1882 1134.6L1882.5 1134.4L1883 1134.1L1883.5 1134.1L1884 1134.2L1884.5 1134.2L1885 1133.6L1885.5 1133.6L1886 1134.3L1886.5 1134L1887 1133.4L1887.5 1133.9L1888 1134.7L1888.5 1134.7L1889 1133.9L1889.5 1133.8L1890 1134.5L1890.5 1134.9L1891 1135.2L1891.5 1135.3L1892 1135.3L1892.5 1135.7L1893 1135.9L1893.5 1136.1L1894 1136.4L1902 1135.8L1902.5 1136L1903 1136L1903.5 1135.8L1904 1135.4L1904.5 1135.2L1905 1135.4L1905.5 1135.6L1906.5 1135.6L1907 1135.8L1907.5 1136.2L1908 1136.3L1908.5 1135.7L1909 1135.2L1909.5 1135L1910 1134.8L1910.5 1134.8L1911 1134.9L1911.5 1134.7L1912 1134.7L1912.5 1134.8L1913 1134.7L1913.5 1135.3L1914 1135.5L1914.5 1135L1915 1134.7L1915.5 1135.1L1916 1135.6L1916.5 1135.2L1917 1134.3L1917.5 1133.5L1918 1133.8L1918.5 1134.7L1919 1135.1L1919.5 1135.1L1920 1135.2L1920.5 1135L1921 1134.9L1921.5 1135.1L1922 1135.1L1922.5 1135.3L1923 1135.2L1923.5 1134.8L1924 1134.9L1924.5 1135.5L1925 1135.7L1925.5 1135.5L1926 1135.3L1926.5 1135.2L1927 1135.9L1927.5 1136L1928 1136.1L1928.5 1136.3L1929 1136.4L1929.5 1136.4L1930 1136.3L1930.5 1136.2L1931 1136.1L1931.5 1136L1932 1136L1932.5 1135.9L1933 1135.8L1933.5 1135.2L1934.5 1135.3L1935 1135.2L1935.5 1135.4L1936 1135.4L1936.5 1135.2L1937 1135.1L1937.5 1135.3L1938 1135.3L1938.5 1135.3L1939 1135.2L1939.5 1135L1940 1134.6L1940.5 1134.5L1941 1134.8L1941.5 1135L1942 1134.6L1942.5 1134.8L1943 1135.4L1943.5 1135.2L1944 1135.1L1944.5 1135.7L1945 1135.7L1945.5 1135.4L1946 1135.7L1946.5 1135.6L1947 1135.3L1947.5 1135.8L1948 1136.4L1948.5 1135.8L1949 1135.9L1949.5 1136.1L1950 1136.2L1950.5 1136.4L1951 1136.3L1951.5 1136.2L1952 1136.1L1952.5 1135.9L1953 1135.5L1953.5 1135.5L1954 1135.9L1954.5 1136.2L1955 1135.8L1955.5 1135.3L1956 1135.2L1956.5 1135L1957 1134.7L1957.5 1134.6L1958 1134.4L1958.5 1134.3L1959 1134.6L1959.5 1134.9L1960 1134.9L1960.5 1135.2L1961 1135.5L1961.5 1135.2L1962 1134.9L1962.5 1134.8L1963 1135.1L1963.5 1135.6L1964 1136.1L1964.5 1136.4L1965 1135.9L1965.5 1134.9L1966 1134.5L1966.5 1134.7L1967 1134.9L1967.5 1134.8L1968 1135.1L1968.5 1135.4L1969 1134.3L1969.5 1132.5L1970 1131.6L1970.5 1132.3L1971 1132.9L1971.5 1133.2L1972 1133.4L1972.5 1133.9L1973 1134.1L1973.5 1133.6L1974 1133.4L1974.5 1133.1L1975 1132.6L1975.5 1133L1976 1133.6L1976.5 1133.8L1977 1134L1977.5 1133.6L1978 1133.6L1978.5 1133.7L1979 1133.3L1979.5 1133.1L1980 1133.7L1980.5 1133.6L1981 1132.8L1981.5 1132.6L1982 1132.9L1982.5 1133.2L1983 1133.3L1983.5 1133.2L1984 1133L1984.5 1132.9L1985 1132.5L1985.5 1131.6L1986 1131.9L1986.5 1132.8L1987 1132.4L1987.5 1132.1L1988 1132.1L1988.5 1131.5L1989 1130.9L1989.5 1130.5L1990 1131.1L1990.5 1131.6L1991 1130.6L1991.5 1130L1992 1130.4L1992.5 1129.9L1993 1129.6L1993.5 1130L1994 1130.2L1994.5 1130.5L1995 1131.1L1995.5 1131.2L1996 1130.6L1996.5 1130.6L1997 1131.3L1997.5 1132.1L1998 1133.4L1998.5 1133.9L1999 1133.4L1999.5 1133.1L2000 1133.3L2000.5 1134L2001 1134.5L2001.5 1134.3L2002 1133.9L2002.5 1134.7L2003 1135.4L2003.5 1134.8L2004 1134.1L2004.5 1134.2L2005 1134.9L2005.5 1135.6L2006 1135.5L2006.5 1135.3L2007 1135.6L2007.5 1135.8L2008 1136L2008.5 1136.2L2009 1136.3L2009.5 1136.5L2010 1136.8L2010.5 1137L2011 1137.3L2011.5 1137.3L2012 1137.2L2012.5 1137.1L2013 1137L2013.5 1136.8L2014 1136.7L2014.5 1136.6L2015 1136.5L2015.5 1136.3L2016 1136.1L2016.5 1136L2017 1135.8L2017.5 1135.8L2018 1135.5L2018.5 1135.4L2019 1135.4L2019.5 1134.9L2020 1134.4L2020.5 1134.1L2021 1134.2L2021.5 1134.7L2022 1135L2022.5 1135.2L2023 1135.1L2023.5 1135L2024 1134.8L2024.5 1134.5L2025 1134.4L2025.5 1134.5L2026.5 1134.5L2027 1134.5L2028 1134.6L2028.5 1134.7L2029 1135.4L2029.5 1135.9L2030 1136.5L2030.5 1137.1L2031 1137.2L2031.5 1136.8L2032 1136.4L2032.5 1136L2033 1135.1L2033.5 1135.3L2034 1135.3L2034.5 1135.1L2035 1135.2L2035.5 1135.1L2036 1134.6L2036.5 1134.1L2037 1133.5L2037.5 1133.2L2038 1133.1L2038.5 1132.3L2039 1131.3L2039.5 1131.5L2040 1133L2040.5 1133.3L2041 1131.5L2041.5 1130.7L2042 1130.6L2042.5 1130.1L2043 1129.5L2043.5 1129.2L2044 1128.5L2044.5 1127.3L2045 1126.5L2045.5 1125.5L2046 1124.7L2046.5 1125.8L2047 1127L2047.5 1126L2048 1125.9L2048.5 1127.3L2049 1127.7L2049.5 1127.5L2050 1127.6L2050.5 1127.5L2051 1127.6L2051.5 1127.6L2052 1127.4L2052.5 1129.5L2053 1131.5L2053.5 1132.3L2054 1134.6L2054.5 1136.3L2055 1136L2055.5 1136L2056 1135.3L2056.5 1135.2L2057 1135.2L2057.5 1134.6L2058 1133.8L2058.5 1133.4L2059 1133L2059.5 1133L2060 1133.4L2060.5 1133.5L2061 1133L2061.5 1132.5L2062 1132.3L2063 1132.3L2063.5 1132L2064 1131.8L2064.5 1132.7L2065 1132.9L2065.5 1132.1L2066 1132.3L2066.5 1133L2067 1133.1L2067.5 1133.6L2068 1134.1L2068.5 1134.1L2069 1134L2069.5 1133.7L2070 1133.3L2070.5 1133.2L2071 1133.5L2071.5 1133.8L2072 1134L2072.5 1134.2L2073 1134.1L2073.5 1133.3L2074 1133.2L2074.5 1133.4L2075 1133.3L2075.5 1133.3L2076 1133.3L2076.5 1132.6L2077 1132.1L2077.5 1132.7L2078 1133.3L2078.5 1132.3L2079 1131.3L2079.5 1131.2L2080 1131L2080.5 1130.7L2081 1130.5L2081.5 1130.9L2082 1131.2L2082.5 1129.3L2083 1030.2L2083.5 1029.6L2084 1029.7L2084.5 1025.9L2085 1026L2085.5 1026.8L2086 1028.8L2086.5 1028.6L2087 1028.3L2087.5 1027.3L2088 1026L2088.5 1025.4L2089 1024.4L2089.5 1023.4L2090 1023.4L2090.5 1023.8L2091 1030L2091.5 1041.5L2092 1048.5L2092.5 1051.2L2093 1047.7L2093.5 1044L2094 1043.7L2094.5 1039.6L2095 1032.5L2095.5 1033.4L2096 1032.3L2096.5 1031.8L2097 1031.8L2097.5 1135.8L2098 1135.1L2098.5 1134.2L2099 1133.4L2099.5 1133.4L2100 1133.5L2100.5 1133.6L2101 1134.3L2101.5 1134.5L2102 1134.3L2102.5 1135.1L2103 1135.5L2103.5 1135.3L2104 1135.2L2104.5 1135.5L2105 1135.7L2105.5 1135.9L2106 1136L2106.5 1136.1L2107 1136.3L2107.5 1136.4L2108 1136.5L2108.5 1136.6L2109 1136.8L2115.5 1136.4L2116 1136.5L2116.5 1136.7L2117 1136.8L2117.5 1136.9L2118 1137L2122 1137.3L2122.2 1137.4ZM2130.2 1137.4L2130.5 1137L2131 1136.6L2131.5 1136.3L2132 1135.9L2132.5 1135.1L2133 1135L2133.5 1134.8L2134 1134.6L2134.5 1134.5L2135 1134.3L2135.5 1134.4L2136 1134.1L2136.5 1133.6L2137 1133.4L2137.5 1133.9L2138 1134.3L2138.5 1133.9L2139 1133.3L2139.5 1133.4L2140 1133.9L2140.5 1134.4L2141 1134.4L2141.5 1133.9L2142 1133.6L2142.5 1134.3L2143 1135.1L2143.5 1135.9L2151.5 1135.9L2152 1135.8L2152.5 1135.8L2153 1135.6L2153.5 1135.2L2154 1135.2L2154.5 1135.4L2155 1135.2L2155.5 1134.9L2156 1135.1L2156.5 1135.4L2157 1135.6L2157.5 1135.6L2158 1135.4L2158.5 1135.3L2159 1135.3L2159.5 1135.5L2160 1136.2L2160.5 1136.2L2161 1135L2161.5 1134.1L2162 1133.3L2162.5 1133.2L2163 1133.5L2163.5 1133.3L2164 1133.2L2164.5 1133.5L2165 1133.5L2165.5 1132.9L2166 1132.6L2166.5 1132.7L2167 1132.6L2167.5 1132.9L2168 1133.5L2168.5 1134.2L2169 1133.8L2169.5 1132.2L2170 1131.6L2170.5 1132.5L2171 1133.6L2171.5 1133.7L2172 1133.5L2172.5 1133.9L2173 1134.4L2173.5 1135L2174 1135.2L2174.5 1135.2L2175 1134.9L2175.5 1134.6L2176 1134.8L2176.5 1134.7L2177 1134.5L2177.5 1134.1L2178 1134L2178.5 1134.2L2179 1134.8L2179.5 1135.3L2180 1135.2L2180.5 1135.1L2181 1135.6L2181.5 1135.9L2182 1135.5L2182.5 1134.9L2183 1135L2183.5 1135L2184 1134.3L2184.5 1133.9L2185 1133.7L2185.5 1133.8L2186 1134.2L2186.5 1134.7L2187 1135.1L2187.5 1135.3L2188 1135.3L2188.5 1135.3L2189 1135.4L2189.5 1135.5L2190 1135.6L2190.5 1135.9L2191 1136L2191.5 1135.8L2192 1135.6L2192.5 1135.3L2193 1134.8L2193.5 1135L2194 1135.4L2194.5 1135.1L2195 1134.7L2195.5 1134.6L2196 1134.7L2196.5 1135L2197 1135L2197.5 1134.4L2198 1133.9L2198.5 1134L2199 1134.2L2199.5 1134.3L2200 1134.3L2200.5 1134.1L2201 1133.5L2201.5 1132.9L2202 1133L2202.5 1133.7L2203 1134.2L2203.5 1134.3L2204 1134.2L2204.5 1134.3L2205 1134.5L2205.5 1135.1L2206 1135.3L2206.5 1135.3L2207 1135.5L2207.5 1135.8L2208 1135.9L2208.5 1136.1L2209 1136.4L2209.5 1136.7L2210 1137L2210.5 1137.3L2210.8 1137.4ZM2217.2 1137.4L2217.5 1137L2218 1136.6L2218.5 1136.4L2257.5 1136.4L2258 1136.2L2258.5 1135.9L2259 1135.1L2259.5 1134.8L2260 1134.8L2260.5 1134.9L2261 1134.6L2261.5 1134.7L2262 1134.9L2262.5 1134.6L2263 1133.7L2263.5 1133.4L2264 1133.8L2264.5 1133.8L2265 1133.4L2265.5 1133L2266 1132.7L2266.5 1132.7L2267 1133L2267.5 1133.4L2268 1133.7L2268.5 1133.5L2269 1132.6L2269.5 1132.4L2270 1133L2270.5 1133.1L2271 1133.2L2271.5 1134.2L2272 1135.3L2272.5 1135.8L2273 1136.2L2273.5 1136.3L2274 1136.2L2274.5 1136L2275 1136.2L2275.5 1136.5L2276 1136.9L2276.5 1137.3L2276.8 1137.4ZM2298.2 1137.4L2298.5 1137.1L2299 1136.6L2299.5 1136.1L2304.5 1135.9L2305 1134.7L2305.5 1133.9L2306 1133.4L2306.5 1132.8L2307 1132.1L2307.5 1131.6L2308 1131.1L2308.5 1130.7L2309 1131.3L2309.5 1131.7L2310 1131.7L2310.5 1131.9L2311 1131.7L2311.5 1131.7L2312 1131.8L2312.5 1131.6L2313 1131.1L2313.5 1130.1L2314 1129.4L2314.5 1130.5L2315 1131.8L2315.5 1132.3L2316 1132.7L2317 1132.8L2317.5 1133.4L2318 1133.6L2318.5 1133.3L2319 1133.1L2319.5 1133.6L2320 1134.6L2320.5 1134.7L2321 1134.8L2321.5 1135.1L2322 1135.1L2322.5 1135.7L2323 1136.1L2323.5 1135.8L2324 1135.1L2324.5 1134.8L2325 1135.5L2325.5 1136.2L2326 1136.3L2326.5 1135.8L2327 1135.3L2327.5 1135.2L2328 1135.3L2328.5 1135.5L2329 1135.3L2329.5 1134.8L2330 1135L2330.2 1137.4ZM2330.8 1137.4L2331 1030.4L2331.5 1028L2332 1018.5L2332.5 1006.9L2333 1015.1L2333.5 1018.7L2334 1021.1L2334.5 1023.2L2335 1024.9L2335.5 1025.5L2336 1026.7L2336.5 1027.9L2337 1033.9L2337.5 1046.7L2338 1051.3L2338.5 1051.8L2339 1065.8L2339 1137.4Z" fill="#FF8800"/>
<g fill="none" stroke="#FF8800">
<path d="M412.29 1039.65C412.29 983.46 1738.31 982.75 1738.31 1038.93" stroke-width="6.47"/>
<path d="M2096.8 1032.22C2096.8 976.04 2331.07 975.56 2331.07 1031.74" stroke-width="6.77"/>
<path d="M412.29 1137.41C412.29 1193.59 2331.07 1193.59 2331.07 1137.41" stroke-width="0.8"/>
</g>
<rect x="1018.31" y="955.54" width="113.97" height="83.22" fill="#fff"/>
<rect x="2156.95" y="948.23" width="113.97" height="83.22" fill="#fff"/>
<rect x="1335.95" y="1137.94" width="71.47" height="83.22" fill="#fff"/>
<text transform="translate(1043.42 1006.65) scale(1.0796 1)" font-size="35.32" stroke-width="0.35" x="-0.2 19.5 39.3">156</text>
<text transform="translate(2182.06 999.35) scale(1.0796 1)" font-size="35.32" stroke-width="0.35" x="-0.2 19.6 39.3">170</text>
<text transform="translate(1361.06 1189.05) scale(1.0796 1)" font-size="35.32" stroke-width="0.35" x="0">3</text>
<clipPath id="seam3"><rect x="1125.88" y="958.32" width="1" height="77.67"/><rect x="2162.36" y="951.01" width="1" height="77.67"/><rect x="1341.35" y="1140.71" width="1" height="77.67"/><rect x="1401.01" y="1140.71" width="1" height="77.67"/></clipPath>
<g clip-path="url(#seam3)" opacity=".3" fill="none" stroke="#FF8800"><path d="M412.29 1039.65C412.29 983.46 1738.31 982.75 1738.31 1038.93" stroke-width="6.47"/><path d="M2096.8 1032.22C2096.8 976.04 2331.07 975.56 2331.07 1031.74" stroke-width="6.77"/><path d="M412.29 1137.41C412.29 1193.59 2331.07 1193.59 2331.07 1137.41" stroke-width="0.8"/></g>
</g>
<g id="track4">
<path d="M400 1449.46H2339.49" stroke="#FF8800" stroke-width="1" stroke-opacity=".38" fill="none"/>
<path d="M399.8 1449.5L400 1334.2L400.5 1335.2L401 1334.4L401.5 1333.8L402 1334L402.5 1335.5L403 1336.8L403.5 1337.2L404 1334.8L404.5 1332.2L405 1325.4L405.5 1312.1L406 1301.6L406.5 1297.9L407 1304.6L407.5 1309.2L408 1311.1L408.5 1313L409 1317.5L409.5 1325.4L410 1331.6L410.5 1338.4L411 1344.1L411.5 1350.1L412 1354.6L412.5 1358.6L412.8 1449.5ZM538.8 1449.5L539 1449.2L539.5 1448.9L540 1448.7L540.5 1448.4L546.5 1448.4L547 1448.7L547.5 1448.9L548 1449.2L548.2 1449.5ZM621.8 1449.5L622 1449L622.5 1448.6L623 1448.2L623.5 1448.5L624 1448.2L624.5 1447.9L625 1447.8L625.5 1447.3L626 1447.2L626.5 1447.2L627 1446.8L627.5 1447.3L628 1447.5L628.5 1447.1L629 1446.9L629.5 1447L630 1447.4L630.5 1447.3L631 1447.4L631.5 1447.5L632 1447.5L632.5 1447.6L633 1448.2L633.5 1448.6L634 1449L634.2 1449.5ZM705.2 1449.5L705.5 1449.2L706 1448.9L706.5 1448.7L707 1448.4L717.5 1448.4L718 1448.7L718.5 1448.9L719 1449.2L719.2 1449.5ZM753.8 1449.5L754 1449.3L754.5 1449.2L755 1449L755.5 1448.9L761 1448.9L761.5 1449L762 1449.2L762.5 1449.3L762.8 1449.5ZM765.2 1449.5L765.5 1449.3L766 1449.2L766.5 1449L767 1448.9L773 1448.9L773.5 1449L774 1449.2L774.5 1449.3L774.8 1449.5ZM779.2 1449.5L779.5 1449.3L780 1449.2L780.5 1449L781 1448.9L786.5 1448.9L787 1449L787.5 1449.2L788 1449.3L788.2 1449.5ZM800.2 1449.5L800.5 1449.3L801 1449.2L801.5 1449L802 1448.9L807.5 1448.9L808 1449L808.5 1449.2L809 1449.3L809.2 1449.5ZM829.2 1449.5L829.5 1449.2L830 1448.9L830.5 1448.7L831 1448.4L837 1448.4L837.5 1448.7L838 1448.9L838.5 1449.2L838.8 1449.5ZM937.8 1449.5L938 1449.2L938.5 1448.9L939 1448.7L939.5 1448.4L948 1448.4L948.5 1448.7L949 1448.9L949.5 1449.2L949.8 1449.5ZM1103.2 1449.5L1103.5 1449.3L1104 1449.2L1104.5 1449L1105 1448.9L1111 1448.9L1111.5 1449L1112 1449.2L1112.5 1449.3L1112.8 1449.5ZM1249.2 1449.5L1249.5 1449.2L1250 1448.9L1250.5 1448.7L1251 1448.4L1260 1448.4L1260.5 1448.7L1261 1448.9L1261.5 1449.2L1261.8 1449.5ZM1353.8 1449.5L1354 1449.2L1354.5 1448.9L1355 1448.7L1355.5 1448.4L1367 1448.4L1367.5 1448.7L1368 1448.9L1368.5 1449.2L1368.8 1449.5ZM1372.2 1449.5L1372.5 1449.2L1373 1448.9L1373.5 1448.7L1374 1448.4L1386 1448.4L1386.5 1448.7L1387 1448.9L1387.5 1449.2L1387.8 1449.5ZM1413.8 1449.5L1414 1449.3L1414.5 1449.1L1415 1448.9L1415.5 1448.8L1428.5 1448.8L1429 1448.9L1429.5 1449.1L1430 1449.3L1430.2 1449.5ZM1438.8 1449.5L1439 1449.2L1439.5 1448.9L1440 1448.7L1440.5 1448.4L1447 1448.4L1447.5 1448.7L1448 1448.9L1448.5 1449.2L1448.8 1449.5ZM1450.2 1449.5L1450.5 1449.3L1451 1449.1L1451.5 1448.9L1452 1448.8L1458.5 1448.8L1459 1448.9L1459.5 1449.1L1460 1449.3L1460.2 1449.5ZM1461.2 1449.5L1461.5 1449L1462 1448.6L1462.5 1448.2L1463 1448.1L1463.5 1447.9L1464 1447.5L1464.5 1447.4L1465 1447.5L1465.5 1448.2L1466 1448.5L1466.5 1448.2L1467 1447.8L1467.5 1447.4L1468 1447.2L1468.5 1447L1469 1447.1L1469.5 1447.3L1470 1447.7L1470.5 1448.2L1471 1448.6L1471.5 1449L1471.8 1449.5ZM1500.8 1449.5L1501 1448.9L1501.5 1448.3L1502 1446.9L1502.5 1446L1503 1446.8L1503.5 1447.4L1504 1447.5L1504.5 1447.4L1505 1447.6L1505.5 1447.5L1506 1447.2L1506.5 1447L1507 1446.9L1507.5 1447.2L1508 1447.4L1508.5 1447L1509 1447L1509.5 1447.8L1510 1448.3L1510.5 1448.9L1510.8 1449.5ZM1541.2 1449.5L1541.5 1449L1542 1448.6L1542.5 1448.2L1543 1448.1L1543.5 1447.8L1544 1447.5L1544.5 1447.4L1545 1447.7L1545.5 1448.2L1546 1448.2L1546.5 1448L1547 1447.6L1547.5 1446.9L1548 1446.6L1548.5 1446.5L1549 1446.7L1549.5 1447.1L1550 1446.9L1550.5 1446.5L1551 1446.9L1551.5 1447.6L1552 1447.9L1552.5 1447.6L1553 1447.5L1553.5 1447.8L1554 1447.9L1554.5 1448.1L1555 1448.1L1555.5 1447.9L1556 1447.7L1556.5 1447.5L1557 1448.2L1557.5 1448.6L1558 1449L1558.2 1449.5ZM1567.2 1449.5L1567.5 1449.2L1568 1448.9L1568.5 1448.7L1569 1448.4L1579.5 1448.4L1580 1448.7L1580.5 1448.9L1581 1449.2L1581.2 1449.5ZM1583.8 1449.5L1584 1449.3L1584.5 1449.1L1585 1448.9L1585.5 1448.8L1592 1448.8L1592.5 1448.9L1593 1449.1L1593.5 1449.3L1593.8 1449.5ZM1627.8 1449.5L1628 1449.1L1628.5 1448.8L1629 1448.4L1629.5 1448.1L1642 1448.1L1642.5 1448.4L1643 1448.8L1643.5 1449.1L1643.8 1449.5ZM1663.8 1449.5L1664 1449L1664.5 1448.6L1665 1448.2L1665.5 1448.7L1666 1448.9L1666.5 1448.7L1667 1448L1667.5 1447.8L1668 1447.9L1668.5 1447.7L1669 1447.6L1669.5 1447.9L1670 1448L1670.5 1447.4L1671 1447.2L1671.5 1447.5L1672 1447.3L1672.5 1447.6L1673 1448L1673.5 1448.3L1674 1448.4L1674.5 1448.4L1675 1448.1L1675.5 1447.6L1676 1447.7L1676.5 1448L1677 1448L1677.5 1448.1L1678 1448.2L1678.5 1448.6L1679 1449L1679.2 1449.5ZM1680.8 1449.5L1681 1449.2L1681.5 1448.9L1682 1448.7L1682.5 1448.4L1696 1448.4L1696.5 1448.7L1697 1448.9L1697.5 1449.2L1697.8 1449.5ZM1737.8 1449.5L1738 1363.2L1738.5 1361.8L1739 1359L1739.5 1342.9L1740 1346.8L1740.5 1350.4L1741 1357.7L1741.5 1363.7L1742 1359.1L1742.5 1357.2L1743 1361.6L1743.5 1448.9L1753.5 1448.5L1754 1448.2L1754.5 1448L1755 1447.1L1755.5 1447.3L1756 1447.9L1756.5 1448.1L1757 1447.6L1757.5 1446.7L1758 1446.7L1758.5 1447.2L1759 1447.4L1759.5 1447.9L1760 1447.6L1760.5 1446.5L1761 1446.3L1761.5 1446.8L1762 1447L1762.5 1446.7L1763 1446.3L1763.5 1446.2L1764 1446.3L1764.5 1446.5L1765 1446.3L1765.5 1446L1766 1446L1766.5 1446.3L1767 1446.7L1767.5 1446.8L1768 1446.6L1768.5 1446.8L1769 1446.9L1769.5 1446.8L1770 1447.2L1770.5 1447L1771 1446.4L1771.5 1446.7L1772 1447.4L1772.5 1447.8L1773 1448.2L1773.5 1448.5L1774 1448.9L1780.5 1448.9L1781 1448.7L1781.5 1448.4L1782 1448L1782.5 1448.3L1783 1448.1L1783.5 1447.9L1784.5 1447.9L1785 1447.8L1785.5 1447.7L1786 1447.1L1786.5 1447.2L1787 1448L1787.5 1448L1788 1447.7L1788.5 1447.9L1789 1447.8L1789.5 1447.3L1790 1446.9L1790.5 1447L1791 1447.4L1791.5 1447.6L1792 1447.2L1792.5 1446.9L1793 1446.9L1793.5 1446.6L1794 1445.9L1794.5 1445L1795 1445.3L1795.5 1446.1L1796 1446L1796.5 1445.6L1797 1445.6L1797.5 1445.5L1798 1445.1L1798.5 1445L1799 1444.8L1799.5 1444.5L1800 1443.7L1800.5 1441.2L1801 1439L1801.5 1439L1802 1439L1802.5 1439.5L1803 1440.1L1803.5 1439.5L1804 1438.5L1804.5 1437.9L1805 1438.7L1805.5 1439.9L1806 1440.2L1806.5 1440.7L1807 1440.6L1807.5 1439.8L1808 1439.2L1808.5 1438.7L1809 1438.8L1809.5 1439.4L1810 1439.6L1810.5 1440.3L1811 1441.9L1811.5 1442.9L1812 1443L1812.5 1443.3L1813 1444.1L1813.5 1444.7L1814 1445.1L1815 1445.1L1815.5 1445L1816 1445.2L1816.5 1445.5L1817 1446L1817.5 1446.7L1818 1446.5L1818.5 1445.9L1819 1445.8L1819.5 1446.1L1820 1446.3L1820.5 1446.8L1821 1446.9L1821.5 1446.3L1822 1446.1L1822.5 1445.8L1823 1445.2L1823.5 1445L1824 1445L1824.5 1445.5L1825 1445.6L1825.5 1445.1L1826 1445L1826.5 1445.2L1827 1445.6L1827.5 1445.4L1828 1445.4L1828.5 1445.5L1829 1445.2L1829.5 1445.3L1830 1445.3L1830.5 1444.9L1831 1444.9L1831.5 1444.9L1832 1444.8L1832.5 1445.1L1833 1445.6L1833.5 1446L1834 1446.2L1834.5 1446.5L1835 1447.4L1835.5 1448.1L1836 1448.4L1836.5 1447.9L1843 1448.5L1843.5 1448.5L1844 1448.7L1844.5 1448.8L1845 1448.9L1845.5 1449L1846 1449.2L1846.5 1449.3L1846.8 1449.5ZM1857.2 1449.5L1857.5 1449.4L1858 1449.3L1858.5 1449.2L1859 1449.1L1859.5 1449L1860 1449L1860.5 1448.9L1861 1448.8L1861.5 1448.7L1862 1448.6L1862.5 1448.5L1872.5 1448.9L1873 1448.6L1873.5 1448.4L1874 1448.1L1874.5 1447.9L1875 1447.5L1875.5 1447.4L1876 1447.5L1876.5 1447.3L1877 1446.8L1877.5 1446.5L1878 1446.4L1878.5 1445.8L1879 1444.8L1879.5 1444.1L1880 1443.9L1880.5 1444.3L1881 1444.4L1881.5 1444.1L1882 1443.8L1882.5 1443.6L1883 1443.9L1883.5 1444.3L1884 1443.3L1884.5 1442.7L1885 1443.3L1885.5 1442.7L1886 1441.4L1886.5 1441.2L1887 1441.7L1887.5 1441.4L1888 1440.6L1888.5 1441.1L1889 1442.5L1889.5 1442.7L1890 1442L1890.5 1442.3L1891 1442.9L1891.5 1443.1L1892 1443.3L1892.5 1443.8L1893 1444.4L1893.5 1445.1L1894 1445.3L1894.5 1444.6L1895 1444.5L1895.5 1445.3L1896 1446.3L1896.5 1446.5L1897 1446.3L1897.5 1446.7L1898 1447.3L1899 1447.3L1899.5 1447.3L1900 1447L1900.5 1446.3L1901 1446.2L1901.5 1446.1L1902 1445.7L1902.5 1445.9L1903 1446.1L1903.5 1445.9L1904 1445.5L1904.5 1445L1905 1444.5L1905.5 1444.6L1906 1444.4L1906.5 1444.2L1907 1444.3L1907.5 1444.4L1908 1445.1L1908.5 1446L1909 1446.5L1909.5 1446.2L1910 1445.3L1910.5 1445.4L1911 1446.1L1911.5 1446.3L1912 1446.2L1912.5 1446.3L1913 1446.7L1913.5 1447.3L1914 1447.4L1914.5 1447.2L1915 1447.7L1915.5 1447.9L1916 1447.5L1916.5 1447.5L1917 1446.9L1917.5 1446.4L1918 1446.5L1918.5 1446.7L1919 1447.3L1919.5 1447.2L1920 1446.3L1920.5 1446.1L1921 1446.1L1921.5 1445.9L1922 1446.1L1922.5 1446.2L1923 1445.9L1923.5 1445.7L1924 1445.8L1924.5 1446L1925 1446.5L1925.5 1446.9L1926 1447.2L1926.5 1447.5L1927 1448.2L1927.5 1448.4L1928 1448.2L1928.5 1448.1L1929 1447.9L1929.5 1447.3L1930 1447.3L1930.5 1447.2L1931 1447.4L1931.5 1447.5L1932 1447.1L1932.5 1447L1933 1446.9L1933.5 1446.5L1934 1446.2L1934.5 1446.4L1935 1446.4L1935.5 1445.2L1936 1443.9L1936.5 1443.5L1937 1443.5L1937.5 1443.5L1938 1443.4L1938.5 1443.7L1939 1443.5L1939.5 1443.1L1940 1443.3L1940.5 1443.1L1941 1442.3L1941.5 1442.4L1942 1443.2L1942.5 1443.8L1943 1444.2L1943.5 1445.2L1944 1446L1944.5 1445.3L1945 1444.2L1945.5 1444.3L1946 1444.3L1946.5 1444L1947 1444.9L1947.5 1446.1L1948 1446.2L1948.5 1445.8L1949 1445.8L1949.5 1446.4L1950 1446.9L1950.5 1448.1L1951 1447.8L1951.5 1446.9L1952 1446.7L1952.5 1446.7L1953 1446.9L1953.5 1446.2L1954 1445.2L1954.5 1445.4L1955 1445.8L1955.5 1445.4L1956 1444.9L1956.5 1445.1L1957 1445.5L1957.5 1446L1958 1446.4L1958.5 1446.5L1959 1446.4L1959.5 1446.1L1960 1445.6L1960.5 1445.6L1961 1447L1961.5 1448.4L1962 1448.3L1962.5 1447.4L1963 1446L1963.5 1445.9L1964 1446.8L1964.5 1446.4L1965 1445.2L1965.5 1444.8L1966 1444.7L1966.5 1444.2L1967 1444.3L1967.5 1444.8L1968 1444.3L1968.5 1443.2L1969 1443.3L1969.5 1443.7L1970 1443.2L1970.5 1443.3L1971 1443.9L1971.5 1443.7L1972 1443.8L1972.5 1444.2L1973 1444.7L1973.5 1445.3L1974 1445.4L1974.5 1445.6L1975 1446L1975.5 1445.5L1976 1444.9L1976.5 1445.1L1977 1445.4L1977.5 1445.4L1978 1445.1L1978.5 1443.9L1979 1442.9L1979.5 1443.1L1980 1443.6L1980.5 1443.9L1981 1444.3L1981.5 1444.7L1982 1444.3L1982.5 1443.4L1983 1443.6L1983.5 1444.1L1984 1443.8L1984.5 1443.4L1985 1443.2L1985.5 1442.9L1986 1442.1L1986.5 1442L1987 1442.6L1987.5 1442.6L1988 1442.3L1988.5 1441.3L1989 1439.6L1989.5 1439.4L1990 1439.7L1990.5 1439.1L1991 1438.2L1991.5 1437.6L1992 1438.2L1992.5 1438.9L1993 1439.6L1993.5 1440.4L1994 1441.2L1994.5 1441.9L1995 1441.7L1995.5 1441.7L1996 1442.6L1996.5 1443.1L1997 1443.2L1997.5 1443.4L1998 1443.2L1998.5 1444L1999 1445.4L1999.5 1445.7L2000 1446.1L2000.5 1446.7L2001 1448.2L2001.5 1448.4L2002 1448.3L2002.5 1448.2L2003 1448L2003.5 1447.9L2004 1447.4L2004.5 1447.2L2005 1447L2005.5 1447L2006 1447.3L2006.5 1447.6L2007 1447.4L2007.5 1446.8L2008 1446.5L2008.5 1446.5L2009 1446.9L2009.5 1446.9L2010 1446.5L2010.5 1446.1L2011 1446.1L2011.5 1446.5L2012 1446.5L2012.5 1446.3L2013 1446.4L2013.5 1446.5L2014 1446.3L2014.5 1446.6L2015 1446.7L2015.5 1446.8L2016 1447.1L2016.5 1447.4L2017 1447.3L2017.5 1447.1L2018 1447.3L2018.5 1447.4L2019 1447.2L2019.5 1447.3L2020 1447.6L2020.5 1448L2021 1448.2L2021.5 1448.4L2022 1448.5L2022.5 1448.7L2023 1448.9L2023.5 1448.8L2024 1448.8L2024.5 1448.7L2025 1448.7L2025.5 1448.6L2026 1448.6L2026.5 1448.5L2027 1448.4L2027.5 1448.2L2028 1447.9L2028.5 1447.4L2029 1447.1L2029.5 1446.6L2030 1446.2L2030.5 1446.3L2031 1446.8L2031.5 1447.2L2032 1446.7L2032.5 1446.1L2033 1445.6L2033.5 1445.5L2034 1445.6L2034.5 1445.6L2035 1445.9L2035.5 1446.3L2036 1446.5L2036.5 1446.3L2037 1445.8L2037.5 1445.6L2038 1445.7L2038.5 1444.8L2039 1444.4L2039.5 1445.2L2040 1445.2L2040.5 1444.4L2041 1443.3L2041.5 1442.5L2042 1442.6L2042.5 1443.5L2043 1441.8L2043.5 1439.2L2044 1436.3L2044.5 1434.2L2045 1432.3L2045.5 1431.7L2046 1432.5L2046.5 1432.7L2047 1433.6L2047.5 1435L2048 1435L2048.5 1435L2049 1435.2L2049.5 1435.4L2050 1435.2L2050.5 1434.2L2051 1435.9L2051.5 1439.7L2052 1440.9L2052.5 1439.6L2053 1439.6L2053.5 1442.1L2054 1445.3L2054.5 1447.9L2055 1447.7L2055.5 1446.1L2056 1445.7L2056.5 1445.8L2057 1445.7L2057.5 1445.9L2058 1445.3L2058.5 1444.7L2059 1445L2059.5 1445.1L2060 1444.7L2060.5 1443.8L2061 1442.9L2061.5 1442.8L2062 1443L2062.5 1443.5L2063 1443.8L2063.5 1443L2064 1443.4L2064.5 1444.6L2065 1444.7L2065.5 1444.5L2066 1444.3L2066.5 1444.8L2067 1445.4L2067.5 1444.3L2068 1444.1L2068.5 1444.8L2069 1444.6L2069.5 1444.4L2070 1444.5L2070.5 1444.8L2071 1445.4L2071.5 1445.3L2072 1444.8L2072.5 1444.2L2073 1445L2073.5 1445.2L2074 1444.1L2074.5 1443.8L2075 1444.1L2075.5 1443.9L2076 1443.2L2076.5 1443L2077 1443.8L2077.5 1444.3L2078 1443.9L2078.5 1443.3L2079 1443.2L2079.5 1443.2L2080 1442.8L2080.5 1442.7L2081 1442.3L2081.5 1441.7L2082 1440.5L2082.5 1438.5L2083 1352.2L2083.5 1350.3L2084 1349.2L2084.5 1347.6L2085 1348.4L2085.5 1350.6L2086 1352.9L2086.5 1352.1L2087 1350L2087.5 1347.4L2088 1348.4L2088.5 1352.7L2089 1356L2089.5 1358.8L2090 1358.7L2090.5 1359.4L2091 1367.3L2091.5 1374.1L2092 1380.8L2092.5 1383.6L2093 1380.9L2093.5 1378.8L2094 1379.6L2094.5 1378.7L2095 1376.8L2095.5 1376.1L2096 1376.6L2096.5 1375.6L2097 1375.5L2097.5 1447.8L2098 1447.9L2098.5 1448.1L2099 1448.3L2099.5 1448.4L2100 1448.8L2100.5 1449.2L2100.8 1449.5ZM2114.2 1449.5L2114.5 1449.3L2115 1449.1L2115.5 1448.9L2116 1448.7L2116.5 1448.5L2117 1448.4L2124 1448.4L2124.5 1448.5L2125 1448.7L2125.5 1448.8L2129.5 1448.8L2130 1448.6L2130.5 1448.4L2131 1448.3L2131.5 1448.1L2132 1447.9L2132.5 1447.4L2133 1447.3L2133.5 1447.7L2134 1448.3L2134.5 1448.4L2135 1448.1L2135.5 1448L2136 1447.9L2136.5 1448L2137 1448L2137.5 1448.1L2138 1448.2L2138.5 1448.2L2139 1448.4L2139.5 1448.5L2140 1448.6L2140.5 1448.7L2141 1448.8L2141.5 1448.9L2142 1449.1L2143.5 1448.9L2144 1448.9L2144.5 1448.8L2145 1448.6L2145.5 1448.4L2146 1448.1L2146.5 1447.9L2147 1447.2L2147.5 1447.2L2148 1446.9L2148.5 1447L2149 1447L2149.5 1446.3L2150 1445.9L2150.5 1446.3L2151 1446.5L2151.5 1446.3L2152 1446.1L2152.5 1445.8L2153 1445.8L2153.5 1445.6L2154 1445.5L2154.5 1445.4L2155 1445.3L2155.5 1445.9L2156 1445.8L2156.5 1444.8L2157 1444.8L2157.5 1445.6L2158 1446L2158.5 1446.5L2159 1447L2159.5 1447.2L2160 1447.2L2160.5 1447.4L2161 1447.8L2161.5 1447.6L2162 1447.5L2162.5 1447.8L2163 1447.8L2163.5 1448L2164 1448.3L2164.5 1448.1L2165 1448L2165.5 1448.1L2166 1448.2L2166.5 1448.1L2167 1448.1L2167.5 1448L2168 1447.9L2168.5 1448L2169 1448L2169.5 1447.8L2170 1447.6L2170.5 1447.7L2171 1448.1L2171.5 1448.3L2172 1448.6L2172.5 1448.8L2180 1449.1L2180.5 1448.9L2181 1448.6L2181.5 1448.3L2182 1448L2182.5 1447.8L2183 1447.4L2183.5 1447.4L2184 1447.2L2184.5 1446.6L2185 1446.4L2185.5 1446.6L2186 1447L2186.5 1446.6L2187 1446.3L2187.5 1446.6L2188 1446L2188.5 1445.5L2189 1445.1L2189.5 1443.6L2190 1442.9L2190.5 1442.1L2191 1441.6L2191.5 1442.3L2192 1442L2192.5 1441.4L2193 1441.4L2193.5 1440.7L2194 1440.1L2194.5 1440.5L2195 1440.3L2195.5 1439.9L2196 1440.4L2196.5 1440.8L2197 1440.4L2197.5 1439.7L2198 1439.5L2198.5 1438.3L2199 1440.7L2199.5 1441.9L2200 1441.3L2200.5 1440.9L2201 1441.1L2201.5 1441.2L2202 1440.6L2202.5 1442.1L2203 1444.3L2203.5 1444.2L2204 1443L2204.5 1442.7L2205 1443.2L2205.5 1443.3L2206 1443.3L2206.5 1443.2L2207 1442.6L2207.5 1443.1L2208 1446.8L2208.5 1447.2L2209 1446.6L2209.5 1446.7L2210 1446.7L2210.5 1445.9L2211 1446.5L2211.5 1447.8L2212 1448.2L2212.5 1448.2L2213 1448.1L2213.5 1448.2L2216.5 1448.2L2217 1448.1L2217.5 1447.3L2218 1446.4L2218.5 1445.9L2219 1445.8L2219.5 1445.7L2220 1445.1L2220.5 1445.1L2221 1445.3L2221.5 1445.2L2222 1444.6L2222.5 1444.2L2223 1444.3L2223.5 1444L2224 1444.2L2224.5 1444.4L2225 1443.5L2225.5 1442.4L2226 1441.6L2226.5 1442.3L2227 1443.6L2227.5 1444.3L2228 1444.5L2228.5 1444.8L2229 1445.3L2229.5 1446.2L2230 1446.2L2230.5 1445.3L2231 1445.3L2231.5 1445.8L2232 1445.8L2232.5 1446.2L2233 1446.6L2233.5 1447L2234 1447.9L2234.5 1448.3L2235 1448.9L2235.2 1449.5ZM2256.2 1449.5L2256.5 1449.4L2257 1449.1L2257.5 1448.9L2258 1448.6L2258.5 1448.4L2259 1448.1L2259.5 1447.9L2260 1447.9L2260.5 1447.5L2261 1447.3L2261.5 1447.5L2262 1447.6L2262.5 1447.5L2263 1447.1L2263.5 1446.6L2264 1446.5L2264.5 1446.2L2265 1445.9L2265.5 1446.1L2266 1446L2266.5 1445.7L2267 1445.6L2267.5 1445.8L2268 1445.5L2268.5 1445.2L2269 1445.6L2269.5 1446.2L2270 1446L2270.5 1445.7L2271 1446.2L2271.5 1446.8L2272 1447.2L2272.5 1447.5L2273 1447.9L2273.5 1447.9L2274 1447.5L2274.5 1447.4L2275 1447.2L2275.5 1447.3L2276 1446.9L2276.5 1446.4L2277 1446.7L2277.5 1447.4L2278 1447.9L2278.5 1448L2279 1448.1L2279.5 1448.2L2280 1448.3L2280.5 1448.4L2286 1448.4L2286.5 1449L2287 1449.3L2287.5 1449.1L2288 1448.8L2288.5 1448.5L2289 1448.4L2289.5 1448.3L2290 1448.2L2290.5 1448.1L2291 1448L2291.5 1447.9L2292 1447.3L2292.5 1447.1L2293 1447.4L2293.5 1448L2294 1448.4L2294.5 1448L2295 1447.6L2296 1447.6L2296.5 1447.7L2297 1447.5L2297.5 1447.6L2298 1448.8L2298.5 1449.3L2299 1449.1L2299.5 1448.8L2300 1448.2L2300.5 1447.8L2301 1446.7L2301.5 1445.9L2302 1445.4L2302.5 1445.3L2303 1445.1L2303.5 1444.4L2304 1443.7L2304.5 1442.6L2305 1441.6L2305.5 1441.5L2306 1441.4L2306.5 1441.1L2307 1441.9L2307.5 1442L2308 1440.5L2308.5 1440L2309 1440.2L2309.5 1440.5L2310 1441.4L2310.5 1441.8L2311 1441.7L2311.5 1441.6L2312 1442.1L2312.5 1443L2313 1444.4L2313.5 1445.3L2314 1445.3L2314.5 1445.9L2315 1445.8L2315.5 1445.7L2316 1447L2316.5 1447.9L2317 1448.2L2317.5 1448.6L2318 1449L2318.2 1449.5ZM2318.8 1449.5L2319 1449.4L2319.5 1449.3L2320 1449.2L2320.5 1449.1L2321 1449L2321.5 1449L2322 1448.9L2322.5 1448.8L2323 1448.7L2323.5 1448.5L2324 1448.4L2324.5 1448.3L2325 1448.2L2325.5 1448.1L2326 1448L2326.5 1447.9L2327 1447.6L2327.5 1447.2L2328 1447.6L2328.5 1447.7L2329 1447.5L2329.5 1447.6L2330 1447.3L2330.2 1449.5ZM2330.8 1449.5L2331 1375.3L2331.5 1372.1L2332 1366.4L2332.5 1359.2L2333 1362.7L2333.5 1366.7L2334 1370.5L2334.5 1371.6L2335 1373.8L2335.5 1374.8L2336 1377.6L2336.5 1378.3L2337 1383L2337.5 1390L2338 1389.1L2338.5 1389.5L2339 1398.9L2339 1449.5Z" fill="#FF8800"/>
<g fill="none" stroke="#FF8800">
<path d="M412.29 1360.33C412.29 1297.07 1738.31 1299.95 1738.31 1363.2" stroke-width="5.68"/>
<path d="M1742.85 1362.24C1742.85 1298.99 2331.07 1311.45 2331.07 1374.7" stroke-width="0.8"/>
<path d="M2096.8 1375.9C2096.8 1312.65 2331.07 1311.45 2331.07 1374.7" stroke-width="5.11"/>
</g>
<rect x="1018.19" y="1272.72" width="114.22" height="83.22" fill="#fff"/>
<rect x="2001.22" y="1279.42" width="71.47" height="83.22" fill="#fff"/>
<rect x="2156.95" y="1286.25" width="113.97" height="83.22" fill="#fff"/>
<text transform="translate(1043.3 1323.83) scale(1.0796 1)" font-size="35.32" stroke-width="0.35" x="-0.2 19.2 38.9">122</text>
<text transform="translate(2026.33 1330.54) scale(1.0796 1)" font-size="35.32" stroke-width="0.35" x="0">3</text>
<text transform="translate(2182.06 1337.36) scale(1.0796 1)" font-size="35.32" stroke-width="0.35" x="-0.2 19.6 39.3">100</text>
<clipPath id="seam4"><rect x="1126" y="1275.49" width="1" height="77.67"/><rect x="2006.63" y="1282.2" width="1" height="77.67"/><rect x="2162.36" y="1289.03" width="1" height="77.67"/></clipPath>
<g clip-path="url(#seam4)" opacity=".3" fill="none" stroke="#FF8800"><path d="M412.29 1360.33C412.29 1297.07 1738.31 1299.95 1738.31 1363.2" stroke-width="5.68"/><path d="M1742.85 1362.24C1742.85 1298.99 2331.07 1311.45 2331.07 1374.7" stroke-width="0.8"/><path d="M2096.8 1375.9C2096.8 1312.65 2331.07 1311.45 2331.07 1374.7" stroke-width="5.11"/></g>
</g>
<text transform="translate(1149.36 348.5) scale(1.0212 1)" font-size="47.09" stroke-width="0.47" x="-0.8 28.9 59.5 83.8 95.9 134.7 162.3 175.6 209.1 241.9 273.1 298.2 321.4 355.2 382.5 407.8 443.1 468.5 492.5 520.8 548.2 576 603.1 619.6 646.5 662.7 690.7 715.5 738.6 769.9 802.3 818.5 846.1 859.4 873.2 899.6 923.8 948.5 976 1001 1028.3 1040.3 1054.6 1068.8 1096.1 1110.3 1137.4" style="fill:#CC0011;stroke:#CC0011">ABLIM1 DDX1_HepG2_2015-8-18_NC-1 IncLevel: 0.62</text>
<text transform="translate(1149.36 644.4) scale(1.0212 1)" font-size="47.09" stroke-width="0.47" x="-0.8 28.9 59.5 83.8 95.9 134.7 162.3 175.6 209.1 241.9 273.1 298.2 321.4 355.2 382.5 407.8 443.1 468.5 492.5 520.8 548.2 576 603.1 619.6 646.5 662.7 690.7 715.5 738.6 769.9 802.3 818.2 846.1 859.4 873.2 899.6 923.8 948.5 976 1001 1028.3 1040.3 1054.6 1068.8 1096.1 1110.3 1138" style="fill:#CC0011;stroke:#CC0011">ABLIM1 DDX1_HepG2_2015-8-18_NC-2 IncLevel: 0.46</text>
<text transform="translate(1072.49 972.5) scale(1.0196 1)" font-size="47.09" stroke-width="0.47" x="-0.8 29 59.6 83.9 96.1 135 162.6 175.9 209.5 242.4 273.6 298.7 322 355.8 383.2 408.4 443.8 469.3 493.3 521.6 549.1 576.9 604.1 620.6 647.6 663.8 691.8 716.6 740.1 768.9 803.5 816.9 844.8 880.3 896.5 924.1 937.5 951.3 977.8 1002 1026.7 1054.3 1079.3 1106.6 1118.7 1132.9 1147.2 1174.5 1188.7 1216.5" style="fill:#FF8800;stroke:#FF8800">ABLIM1 DDX1_HepG2_2015-8-18_KD/KO-1 IncLevel: 0.74</text>
<text transform="translate(1072.36 1284.6) scale(1.0196 1)" font-size="47.09" stroke-width="0.47" x="-0.8 29 59.6 83.9 96.1 135 162.6 175.9 209.5 242.4 273.6 298.7 322 355.8 383.2 408.4 443.8 469.3 493.3 521.6 549.1 576.9 604.1 620.6 647.6 663.8 691.8 716.6 740.1 768.9 803.5 816.9 844.8 880.3 896.2 924.1 937.5 951.3 977.8 1002 1026.7 1054.3 1079.3 1106.6 1118.7 1132.9 1147.2 1174.5 1188.7 1216.2" style="fill:#FF8800;stroke:#FF8800">ABLIM1 DDX1_HepG2_2015-8-18_KD/KO-2 IncLevel: 0.71</text>
<g stroke="#000" stroke-width="4.44" fill="none">
<path d="M400 336V513.3" stroke-linecap="square"/>
<path d="M400 513.3h-19.44M400 468.98h-19.44M400 424.65h-19.44M400 380.33h-19.44M400 336h-19.44"/>
<path d="M400 648.05V825.35" stroke-linecap="square"/>
<path d="M400 825.35h-19.44M400 781.03h-19.44M400 736.7h-19.44M400 692.38h-19.44M400 648.05h-19.44"/>
<path d="M400 960.1V1137.41" stroke-linecap="square"/>
<path d="M400 1137.41h-19.44M400 1093.08h-19.44M400 1048.76h-19.44M400 1004.43h-19.44M400 960.1h-19.44"/>
<path d="M400 1272.16V1449.46" stroke-linecap="square"/>
<path d="M400 1449.46h-19.44M400 1405.13h-19.44M400 1360.81h-19.44M400 1316.48h-19.44M400 1272.16h-19.44"/>
<path d="M400 1555.84H2339.49" stroke-linecap="square"/>
<path d="M400 1555.84v19.44M787.88 1555.84v19.44M1175.76 1555.84v19.44M1563.64 1555.84v19.44M1951.51 1555.84v19.44M2339.39 1555.84v19.44"/>
</g>
<text transform="translate(-225.12 98) scale(1.0745 1)" font-size="58.87" stroke-width="0.59" x="-1.2 28.5 62.9 82.2 115.4 148.8 165.4 198.3 231.5 263.7 296.6 330 363.1 395.8 428.8 462.3 478.9 511.8 545 577.2 610.1 643.5 676.4 709.5 742.4 775.7 792.1 807.4 861.8 891.4 925.9 945.2 978.4 1011.8 1028.4 1061.3 1094.5 1126.7 1159.9 1192.8 1226.2 1259 1292 1325.2 1341.8 1374.7 1408 1440.2 1473.4 1506.3 1539.6 1572.5 1605.3 1638.7 1655.1 1670.4 1724.8 1754.4 1788.9 1808.1 1841.4 1874.7 1891.3 1924.2 1957.5 1989.7 2023.3 2056.1 2089 2122 2154.7 2188.2 2204.8 2237.7 2270.9 2303.2 2336.7 2369.5 2402.4 2435.4 2468.1 2501.7 2518.1 2533.3 2587.8 2617.4 2651.8 2671.1 2704.3 2737.7 2754.3 2787.2 2820.4 2852.7 2886.2 2918.9 2952 2984.8 3017.5 3051.2 3067.8 3100.7 3133.9 3166.1 3199.7 3232.4 3265.2 3298.4 3331.3 3364.7 3381.1">chr10:116225457:116225586:-@chr10:116211383:116211430:-@chr10:116207639:116207785:-@chr10:116205071:116205160:-</text>
<text transform="translate(936.18 1684.95) scale(1.08 1)" font-size="47.09" stroke-width="0.47" x="-2.3 31.5 57.2 82.8 109 149.1 159 182.6 194.7 217.8 243 270 285.4 312.2 323.2 347.1 375.9 390.2 415.9 428 444.1 467.6 495.1 510.4 536.8 564.4 578.7 592.2 606.4 623.8 640.1 658 670.3 693.9 709.9 723.4 750.8 776.6">Genomic coordinate (chr10), &quot;-&quot; strand</text>
<text transform="translate(231.01 477.84) rotate(-90) scale(0.92 1)" font-size="47.09" stroke-width="0.47" x="0.6 33.3 64 95.6">RPKM</text>
<text transform="translate(231.01 789.89) rotate(-90) scale(0.92 1)" font-size="47.09" stroke-width="0.47" x="0.6 33.3 64 95.6">RPKM</text>
<text transform="translate(231.01 1101.95) rotate(-90) scale(0.92 1)" font-size="47.09" stroke-width="0.47" x="0.6 33.3 64 95.6">RPKM</text>
<text transform="translate(231.01 1414) rotate(-90) scale(0.92 1)" font-size="47.09" stroke-width="0.47" x="0.6 33.3 64 95.6">RPKM</text>
<text transform="translate(262.24 485.98) scale(1.0796 1)" font-size="47.09" stroke-width="0.47" x="-0.3 26.2 52.4 65.3">18.5</text>
<text transform="translate(304.49 441.65) scale(1.0796 1)" font-size="47.09" stroke-width="0.47" x="0.1 26.1">37</text>
<text transform="translate(262.24 397.33) scale(1.0796 1)" font-size="47.09" stroke-width="0.47" x="-0.2 26 52.4 65.3">55.5</text>
<text transform="translate(304.61 353) scale(1.0796 1)" font-size="47.09" stroke-width="0.47" x="-0.1 26.2">74</text>
<text transform="translate(262.24 798.03) scale(1.0796 1)" font-size="47.09" stroke-width="0.47" x="-0.3 26.2 52.4 65.3">18.5</text>
<text transform="translate(304.49 753.7) scale(1.0796 1)" font-size="47.09" stroke-width="0.47" x="0.1 26.1">37</text>
<text transform="translate(262.24 709.38) scale(1.0796 1)" font-size="47.09" stroke-width="0.47" x="-0.2 26 52.4 65.3">55.5</text>
<text transform="translate(304.61 665.05) scale(1.0796 1)" font-size="47.09" stroke-width="0.47" x="-0.1 26.2">74</text>
<text transform="translate(262.24 1110.08) scale(1.0796 1)" font-size="47.09" stroke-width="0.47" x="-0.3 26.2 52.4 65.3">18.5</text>
<text transform="translate(304.49 1065.76) scale(1.0796 1)" font-size="47.09" stroke-width="0.47" x="0.1 26.1">37</text>
<text transform="translate(262.24 1021.43) scale(1.0796 1)" font-size="47.09" stroke-width="0.47" x="-0.2 26 52.4 65.3">55.5</text>
<text transform="translate(304.61 977.11) scale(1.0796 1)" font-size="47.09" stroke-width="0.47" x="-0.1 26.2">74</text>
<text transform="translate(262.24 1422.13) scale(1.0796 1)" font-size="47.09" stroke-width="0.47" x="-0.3 26.2 52.4 65.3">18.5</text>
<text transform="translate(304.49 1377.81) scale(1.0796 1)" font-size="47.09" stroke-width="0.47" x="0.1 26.1">37</text>
<text transform="translate(262.24 1333.48) scale(1.0796 1)" font-size="47.09" stroke-width="0.47" x="-0.2 26 52.4 65.3">55.5</text>
<text transform="translate(304.61 1289.16) scale(1.0796 1)" font-size="47.09" stroke-width="0.47" x="-0.1 26.2">74</text>
<text transform="translate(297.81 1621.03) scale(1.0796 1)" font-size="37.97" stroke-width="0.38" x="-0.2 20.9 42.2 62.9 84 105.5 126.6 147.8 168.9">116225587</text>
<text transform="translate(685.69 1621.03) scale(1.0796 1)" font-size="37.97" stroke-width="0.38" x="-0.2 20.9 42.2 62.9 84 105.4 126.7 147.8 168.8">116221485</text>
<text transform="translate(1073.63 1621.03) scale(1.0796 1)" font-size="37.97" stroke-width="0.38" x="-0.2 20.9 42.2 62.9 84.2 105.5 126.7 147.8 168.5">116217382</text>
<text transform="translate(1461.51 1621.03) scale(1.0796 1)" font-size="37.97" stroke-width="0.38" x="-0.2 20.9 42.2 62.9 84.2 105.6 126.3 147.7 168.8">116213279</text>
<text transform="translate(1849.39 1621.03) scale(1.0796 1)" font-size="37.97" stroke-width="0.38" x="-0.2 20.9 42.2 62.9 84.5 105.5 126.5 147.7 168.9">116209176</text>
<text transform="translate(2237.21 1621.03) scale(1.0796 1)" font-size="37.97" stroke-width="0.38" x="-0.2 20.9 42.2 62.9 84.5 105.5 126.7 147.7 169">116205073</text>
<g id="isoforms" stroke="#000" fill="none">
<path d="M400 2392.71H2339.49" stroke-width="2.78"/>
<path d="M431.03 2380.8l7.76 11.91l-7.76 11.91M469.82 2380.8l7.76 11.91l-7.76 11.91M508.61 2380.8l7.76 11.91l-7.76 11.91M547.4 2380.8l7.76 11.91l-7.76 11.91M586.19 2380.8l7.76 11.91l-7.76 11.91M624.98 2380.8l7.76 11.91l-7.76 11.91M663.77 2380.8l7.76 11.91l-7.76 11.91M702.56 2380.8l7.76 11.91l-7.76 11.91M741.35 2380.8l7.76 11.91l-7.76 11.91M780.14 2380.8l7.76 11.91l-7.76 11.91M818.93 2380.8l7.76 11.91l-7.76 11.91M857.72 2380.8l7.76 11.91l-7.76 11.91M896.51 2380.8l7.76 11.91l-7.76 11.91M935.3 2380.8l7.76 11.91l-7.76 11.91M974.09 2380.8l7.76 11.91l-7.76 11.91M1012.88 2380.8l7.76 11.91l-7.76 11.91M1051.67 2380.8l7.76 11.91l-7.76 11.91M1090.46 2380.8l7.76 11.91l-7.76 11.91M1129.25 2380.8l7.76 11.91l-7.76 11.91M1168.04 2380.8l7.76 11.91l-7.76 11.91M1206.83 2380.8l7.76 11.91l-7.76 11.91M1245.62 2380.8l7.76 11.91l-7.76 11.91M1284.41 2380.8l7.76 11.91l-7.76 11.91M1323.2 2380.8l7.76 11.91l-7.76 11.91M1361.99 2380.8l7.76 11.91l-7.76 11.91M1400.78 2380.8l7.76 11.91l-7.76 11.91M1439.57 2380.8l7.76 11.91l-7.76 11.91M1478.35 2380.8l7.76 11.91l-7.76 11.91M1517.14 2380.8l7.76 11.91l-7.76 11.91M1555.93 2380.8l7.76 11.91l-7.76 11.91M1594.72 2380.8l7.76 11.91l-7.76 11.91M1633.51 2380.8l7.76 11.91l-7.76 11.91M1672.3 2380.8l7.76 11.91l-7.76 11.91M1711.09 2380.8l7.76 11.91l-7.76 11.91M1749.88 2380.8l7.76 11.91l-7.76 11.91M1788.67 2380.8l7.76 11.91l-7.76 11.91M1827.46 2380.8l7.76 11.91l-7.76 11.91M1866.25 2380.8l7.76 11.91l-7.76 11.91M1905.04 2380.8l7.76 11.91l-7.76 11.91M1943.83 2380.8l7.76 11.91l-7.76 11.91M1982.62 2380.8l7.76 11.91l-7.76 11.91M2021.41 2380.8l7.76 11.91l-7.76 11.91M2060.2 2380.8l7.76 11.91l-7.76 11.91M2098.99 2380.8l7.76 11.91l-7.76 11.91M2137.78 2380.8l7.76 11.91l-7.76 11.91M2176.57 2380.8l7.76 11.91l-7.76 11.91M2215.36 2380.8l7.76 11.91l-7.76 11.91M2254.15 2380.8l7.76 11.91l-7.76 11.91M2292.94 2380.8l7.76 11.91l-7.76 11.91" stroke-width="2.78" stroke-linecap="square" stroke-linejoin="round"/>
<rect x="400" y="2362.71" width="12.29" height="60" fill="#000" stroke="none"/>
<rect x="2082.91" y="2362.71" width="13.9" height="60" fill="#000" stroke="none"/>
<rect x="2331.07" y="2362.71" width="8.41" height="60" fill="#000" stroke="none"/>
<path d="M400 2194.13H2339.49" stroke-width="2.78"/>
<path d="M431.03 2182.22l7.76 11.91l-7.76 11.91M469.82 2182.22l7.76 11.91l-7.76 11.91M508.61 2182.22l7.76 11.91l-7.76 11.91M547.4 2182.22l7.76 11.91l-7.76 11.91M586.19 2182.22l7.76 11.91l-7.76 11.91M624.98 2182.22l7.76 11.91l-7.76 11.91M663.77 2182.22l7.76 11.91l-7.76 11.91M702.56 2182.22l7.76 11.91l-7.76 11.91M741.35 2182.22l7.76 11.91l-7.76 11.91M780.14 2182.22l7.76 11.91l-7.76 11.91M818.93 2182.22l7.76 11.91l-7.76 11.91M857.72 2182.22l7.76 11.91l-7.76 11.91M896.51 2182.22l7.76 11.91l-7.76 11.91M935.3 2182.22l7.76 11.91l-7.76 11.91M974.09 2182.22l7.76 11.91l-7.76 11.91M1012.88 2182.22l7.76 11.91l-7.76 11.91M1051.67 2182.22l7.76 11.91l-7.76 11.91M1090.46 2182.22l7.76 11.91l-7.76 11.91M1129.25 2182.22l7.76 11.91l-7.76 11.91M1168.04 2182.22l7.76 11.91l-7.76 11.91M1206.83 2182.22l7.76 11.91l-7.76 11.91M1245.62 2182.22l7.76 11.91l-7.76 11.91M1284.41 2182.22l7.76 11.91l-7.76 11.91M1323.2 2182.22l7.76 11.91l-7.76 11.91M1361.99 2182.22l7.76 11.91l-7.76 11.91M1400.78 2182.22l7.76 11.91l-7.76 11.91M1439.57 2182.22l7.76 11.91l-7.76 11.91M1478.35 2182.22l7.76 11.91l-7.76 11.91M1517.14 2182.22l7.76 11.91l-7.76 11.91M1555.93 2182.22l7.76 11.91l-7.76 11.91M1594.72 2182.22l7.76 11.91l-7.76 11.91M1633.51 2182.22l7.76 11.91l-7.76 11.91M1672.3 2182.22l7.76 11.91l-7.76 11.91M1711.09 2182.22l7.76 11.91l-7.76 11.91M1749.88 2182.22l7.76 11.91l-7.76 11.91M1788.67 2182.22l7.76 11.91l-7.76 11.91M1827.46 2182.22l7.76 11.91l-7.76 11.91M1866.25 2182.22l7.76 11.91l-7.76 11.91M1905.04 2182.22l7.76 11.91l-7.76 11.91M1943.83 2182.22l7.76 11.91l-7.76 11.91M1982.62 2182.22l7.76 11.91l-7.76 11.91M2021.41 2182.22l7.76 11.91l-7.76 11.91M2060.2 2182.22l7.76 11.91l-7.76 11.91M2098.99 2182.22l7.76 11.91l-7.76 11.91M2137.78 2182.22l7.76 11.91l-7.76 11.91M2176.57 2182.22l7.76 11.91l-7.76 11.91M2215.36 2182.22l7.76 11.91l-7.76 11.91M2254.15 2182.22l7.76 11.91l-7.76 11.91M2292.94 2182.22l7.76 11.91l-7.76 11.91" stroke-width="2.78" stroke-linecap="square" stroke-linejoin="round"/>
<rect x="400" y="2164.13" width="12.29" height="60" fill="#000" stroke="none"/>
<rect x="1738.31" y="2164.13" width="4.54" height="60" fill="#000" stroke="none"/>
<rect x="2331.07" y="2164.13" width="8.41" height="60" fill="#000" stroke="none"/>
</g>
</svg>
</body></html>
